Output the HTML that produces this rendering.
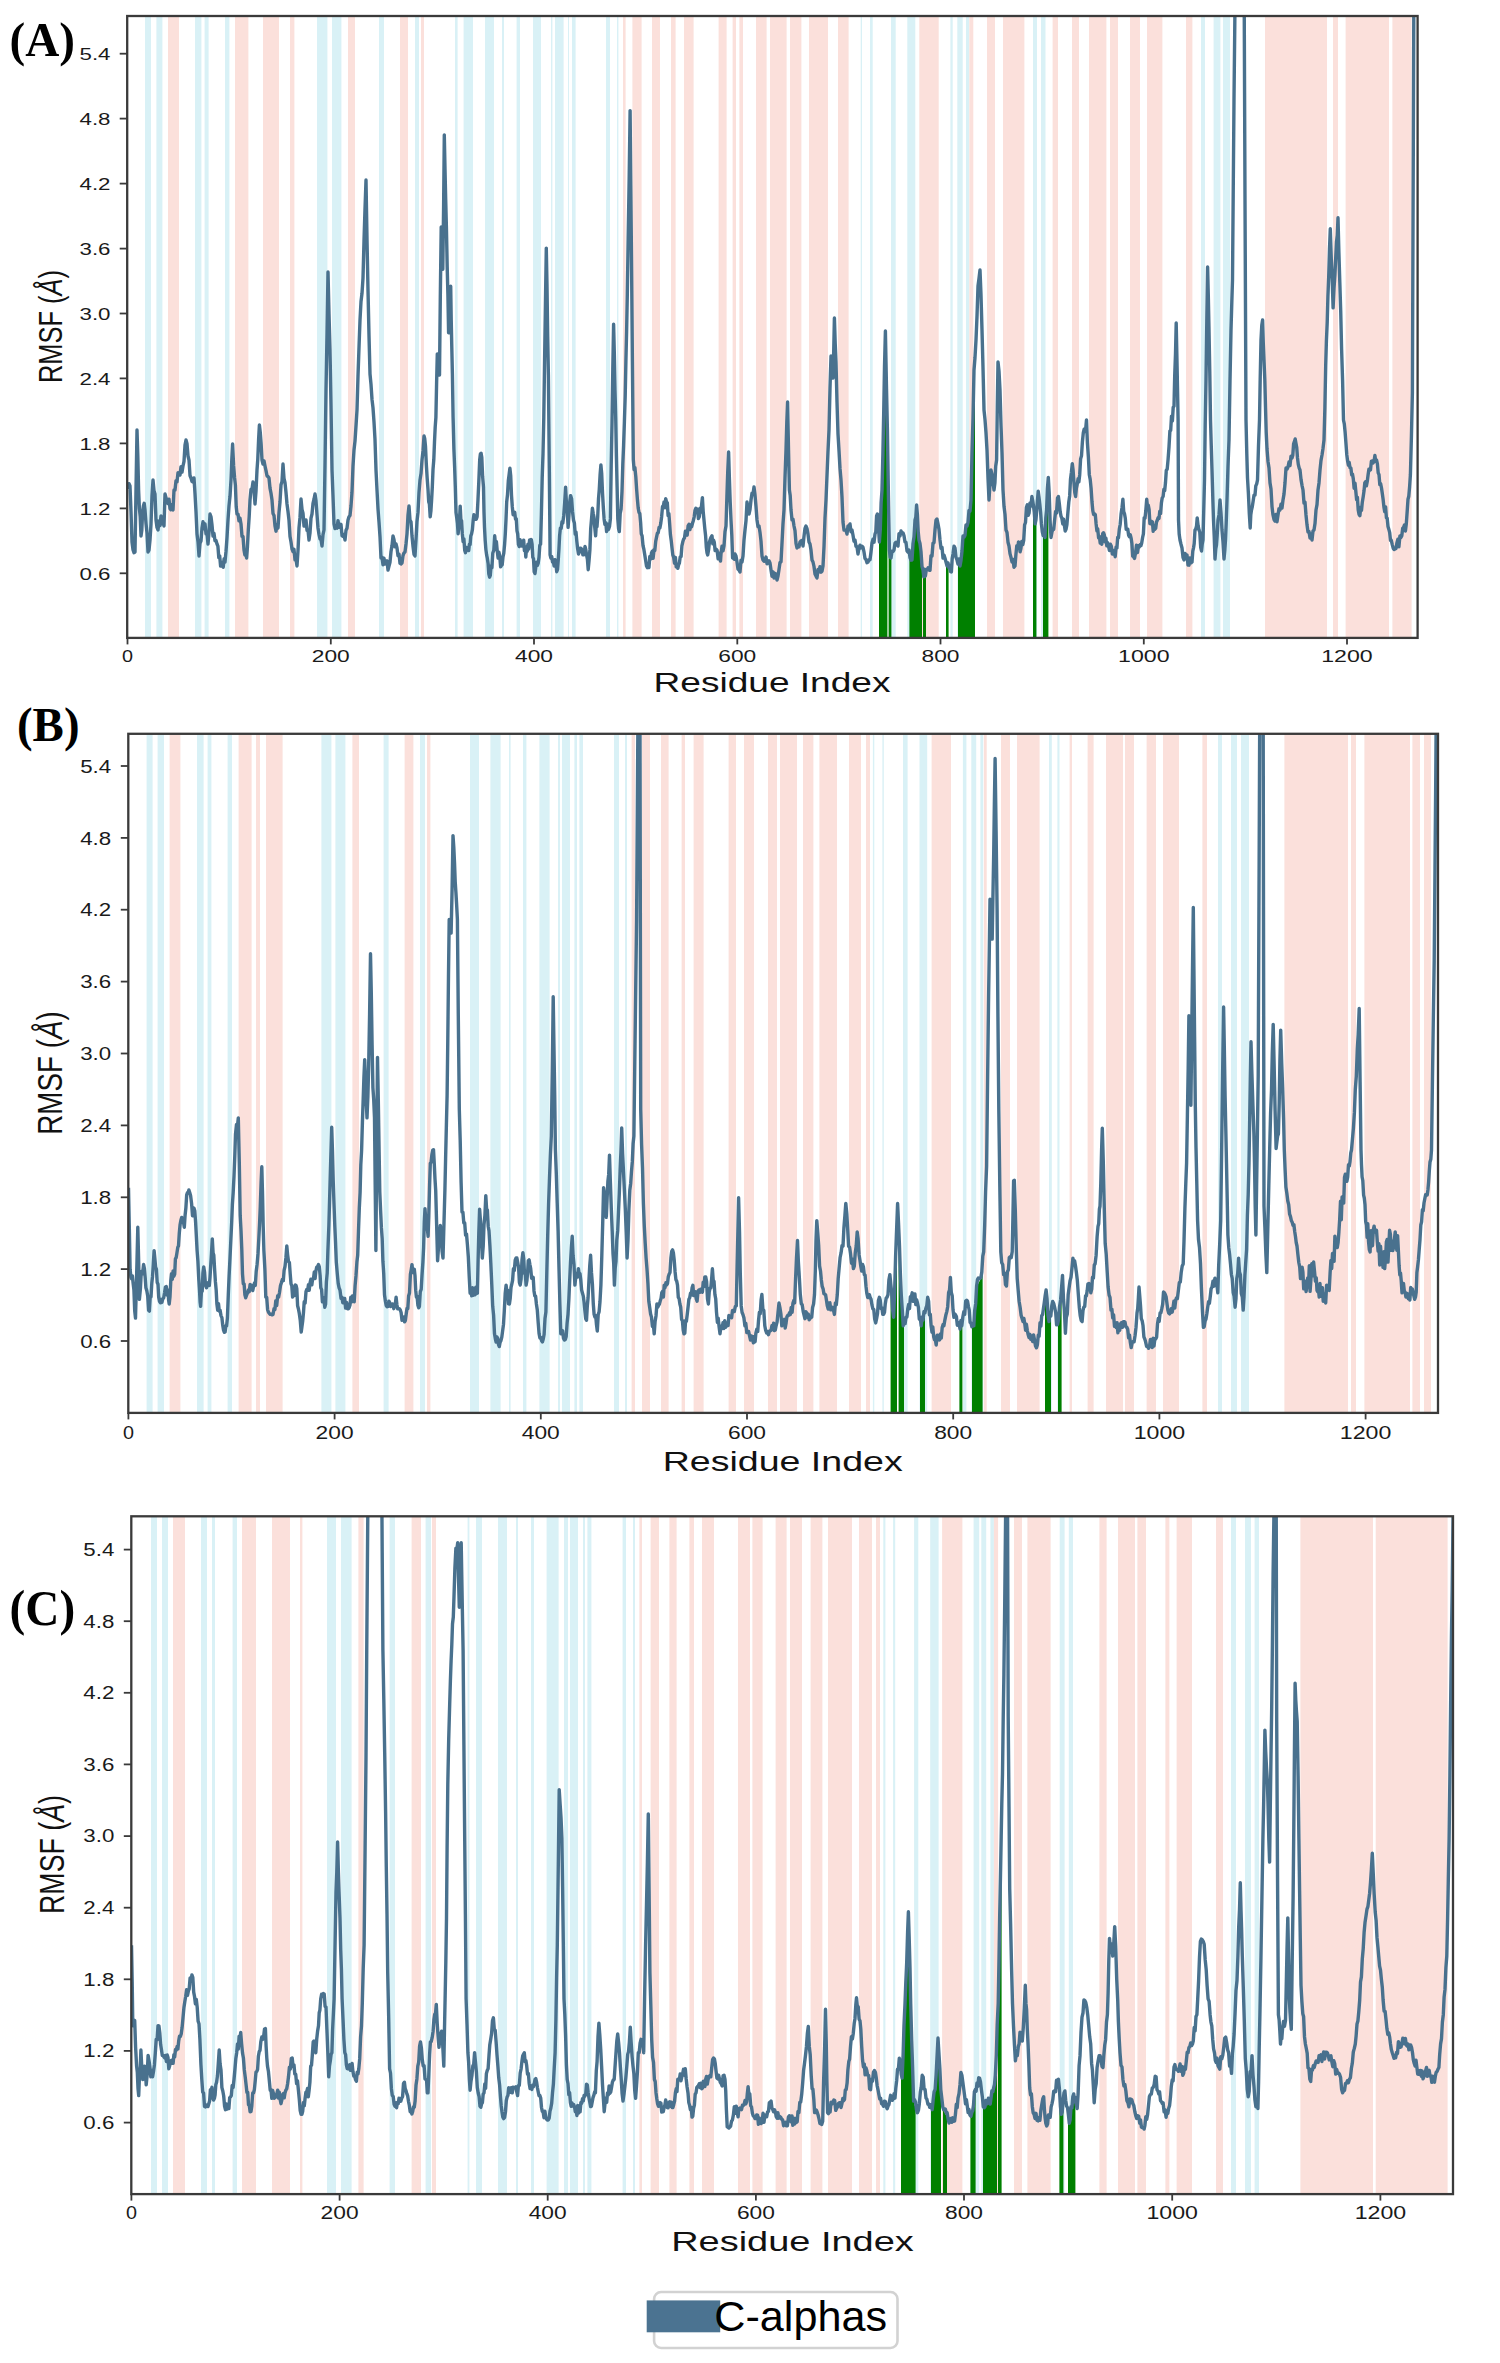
<!DOCTYPE html>
<html><head><meta charset="utf-8"><style>html,body{margin:0;padding:0;background:#fff;}svg{display:block;}</style></head>
<body>
<svg width="1500" height="2363" viewBox="0 0 1500 2363" font-family="Liberation Sans, sans-serif">
<rect width="1500" height="2363" fill="#fff"/>
<clipPath id="cA"><rect x="127.2" y="16" width="1290.3999999999999" height="621.9"/></clipPath>
<g clip-path="url(#cA)">
<rect x="145.0" y="16" width="6.0" height="621.9" fill="#d9f1f6"/>
<rect x="156.4" y="16" width="6.0" height="621.9" fill="#d9f1f6"/>
<rect x="195.0" y="16" width="6.4" height="621.9" fill="#d9f1f6"/>
<rect x="204.6" y="16" width="4.0" height="621.9" fill="#d9f1f6"/>
<rect x="225.0" y="16" width="4.4" height="621.9" fill="#d9f1f6"/>
<rect x="317.0" y="16" width="10.4" height="621.9" fill="#d9f1f6"/>
<rect x="332.0" y="16" width="9.4" height="621.9" fill="#d9f1f6"/>
<rect x="379.0" y="16" width="5.0" height="621.9" fill="#d9f1f6"/>
<rect x="415.0" y="16" width="4.0" height="621.9" fill="#d9f1f6"/>
<rect x="455.0" y="16" width="2.6" height="621.9" fill="#d9f1f6"/>
<rect x="463.6" y="16" width="9.4" height="621.9" fill="#d9f1f6"/>
<rect x="485.0" y="16" width="9.0" height="621.9" fill="#d9f1f6"/>
<rect x="502.0" y="16" width="2.0" height="621.9" fill="#d9f1f6"/>
<rect x="516.6" y="16" width="3.4" height="621.9" fill="#d9f1f6"/>
<rect x="533.0" y="16" width="8.0" height="621.9" fill="#d9f1f6"/>
<rect x="551.0" y="16" width="1.4" height="621.9" fill="#d9f1f6"/>
<rect x="555.0" y="16" width="8.6" height="621.9" fill="#d9f1f6"/>
<rect x="568.0" y="16" width="1.0" height="621.9" fill="#d9f1f6"/>
<rect x="572.0" y="16" width="3.6" height="621.9" fill="#d9f1f6"/>
<rect x="606.0" y="16" width="4.0" height="621.9" fill="#d9f1f6"/>
<rect x="617.0" y="16" width="1.4" height="621.9" fill="#d9f1f6"/>
<rect x="860.7" y="16" width="1.3" height="621.9" fill="#d9f1f6"/>
<rect x="870.0" y="16" width="2.7" height="621.9" fill="#d9f1f6"/>
<rect x="891.0" y="16" width="4.7" height="621.9" fill="#d9f1f6"/>
<rect x="907.3" y="16" width="8.0" height="621.9" fill="#d9f1f6"/>
<rect x="950.4" y="16" width="2.3" height="621.9" fill="#d9f1f6"/>
<rect x="957.3" y="16" width="5.4" height="621.9" fill="#d9f1f6"/>
<rect x="966.0" y="16" width="3.3" height="621.9" fill="#d9f1f6"/>
<rect x="1033.0" y="16" width="4.0" height="621.9" fill="#d9f1f6"/>
<rect x="1041.0" y="16" width="4.5" height="621.9" fill="#d9f1f6"/>
<rect x="1201.0" y="16" width="4.0" height="621.9" fill="#d9f1f6"/>
<rect x="1213.6" y="16" width="6.8" height="621.9" fill="#d9f1f6"/>
<rect x="1223.0" y="16" width="7.0" height="621.9" fill="#d9f1f6"/>
<rect x="168.0" y="16" width="11.0" height="621.9" fill="#fbe0db"/>
<rect x="235.0" y="16" width="13.4" height="621.9" fill="#fbe0db"/>
<rect x="263.0" y="16" width="16.0" height="621.9" fill="#fbe0db"/>
<rect x="290.0" y="16" width="4.4" height="621.9" fill="#fbe0db"/>
<rect x="348.0" y="16" width="7.0" height="621.9" fill="#fbe0db"/>
<rect x="400.0" y="16" width="8.0" height="621.9" fill="#fbe0db"/>
<rect x="421.0" y="16" width="3.0" height="621.9" fill="#fbe0db"/>
<rect x="623.0" y="16" width="2.6" height="621.9" fill="#fbe0db"/>
<rect x="632.4" y="16" width="9.2" height="621.9" fill="#fbe0db"/>
<rect x="652.0" y="16" width="8.0" height="621.9" fill="#fbe0db"/>
<rect x="671.0" y="16" width="4.6" height="621.9" fill="#fbe0db"/>
<rect x="684.0" y="16" width="9.6" height="621.9" fill="#fbe0db"/>
<rect x="718.6" y="16" width="8.0" height="621.9" fill="#fbe0db"/>
<rect x="732.6" y="16" width="3.4" height="621.9" fill="#fbe0db"/>
<rect x="739.4" y="16" width="3.6" height="621.9" fill="#fbe0db"/>
<rect x="756.0" y="16" width="10.6" height="621.9" fill="#fbe0db"/>
<rect x="770.0" y="16" width="16.6" height="621.9" fill="#fbe0db"/>
<rect x="790.0" y="16" width="11.4" height="621.9" fill="#fbe0db"/>
<rect x="809.0" y="16" width="19.0" height="621.9" fill="#fbe0db"/>
<rect x="838.0" y="16" width="10.6" height="621.9" fill="#fbe0db"/>
<rect x="919.3" y="16" width="19.4" height="621.9" fill="#fbe0db"/>
<rect x="969.3" y="16" width="4.0" height="621.9" fill="#fbe0db"/>
<rect x="987.0" y="16" width="8.0" height="621.9" fill="#fbe0db"/>
<rect x="1003.0" y="16" width="21.4" height="621.9" fill="#fbe0db"/>
<rect x="1052.6" y="16" width="5.4" height="621.9" fill="#fbe0db"/>
<rect x="1072.0" y="16" width="7.0" height="621.9" fill="#fbe0db"/>
<rect x="1089.0" y="16" width="17.4" height="621.9" fill="#fbe0db"/>
<rect x="1110.0" y="16" width="8.0" height="621.9" fill="#fbe0db"/>
<rect x="1130.0" y="16" width="10.0" height="621.9" fill="#fbe0db"/>
<rect x="1147.0" y="16" width="15.4" height="621.9" fill="#fbe0db"/>
<rect x="1186.0" y="16" width="6.4" height="621.9" fill="#fbe0db"/>
<rect x="1265.0" y="16" width="62.0" height="621.9" fill="#fbe0db"/>
<rect x="1333.0" y="16" width="5.0" height="621.9" fill="#fbe0db"/>
<rect x="1345.6" y="16" width="43.4" height="621.9" fill="#fbe0db"/>
<rect x="1392.4" y="16" width="19.2" height="621.9" fill="#fbe0db"/>
<path d="M879.0,637.9 L879.0,537.4 L880.0,531.0 L881.0,511.0 L882.0,491.0 L883.0,444.2 L884.0,397.5 L885.0,350.7 L886.0,361.7 L887.0,411.2 L887.4,431.0 L887.4,637.9Z M888.6,637.9 L888.6,503.0 L889.6,552.0 L890.6,557.0 L891.4,557.9 L891.4,637.9Z M909.4,637.9 L909.4,552.3 L910.4,555.7 L911.4,559.0 L912.4,555.7 L913.4,542.3 L914.4,529.0 L915.4,517.3 L916.4,507.9 L917.4,517.7 L918.4,532.2 L919.4,544.0 L920.4,551.5 L921.4,559.0 L922.0,563.5 L922.0,637.9Z M923.0,637.9 L923.0,571.0 L924.0,573.5 L925.0,576.0 L926.0,576.0 L926.0,637.9Z M946.0,637.9 L946.0,563.0 L947.0,565.0 L948.0,567.0 L948.6,568.2 L948.6,637.9Z M958.0,637.9 L958.0,563.0 L959.0,565.0 L960.0,567.0 L961.0,557.0 L962.0,547.0 L963.0,537.0 L964.0,534.5 L965.0,532.0 L966.0,529.5 L967.0,527.0 L968.0,520.5 L969.0,514.0 L970.0,507.5 L971.0,501.0 L972.0,457.7 L973.0,414.3 L974.0,371.0 L975.0,356.0 L975.0,637.9Z M1033.0,637.9 L1033.0,507.0 L1034.0,515.3 L1035.0,523.6 L1036.0,515.6 L1036.4,511.2 L1036.4,637.9Z M1043.0,637.9 L1043.0,530.9 L1044.0,534.7 L1045.0,538.3 L1046.0,520.0 L1047.0,501.6 L1048.0,483.3 L1048.4,481.3 L1048.4,637.9Z" fill="#008000"/>
<path d="M128.0,489.0 L129.0,483.7 L130.0,486.0 L131.0,511.5 L132.0,542.0 L133.0,549.7 L134.0,552.7 L135.0,552.0 L136.0,489.5 L137.0,430.0 L137.8,455.3 L138.6,490.0 L139.4,508.6 L140.2,516.5 L141.0,536.0 L141.8,530.2 L142.6,512.2 L143.4,506.0 L144.2,503.3 L145.0,510.0 L146.0,523.3 L147.0,533.2 L148.0,552.0 L149.0,550.1 L150.0,540.0 L151.0,524.3 L152.0,495.6 L153.0,480.0 L154.0,490.7 L155.0,494.0 L156.0,520.0 L157.0,527.4 L158.0,530.0 L159.0,521.0 L160.0,525.5 L161.0,516.0 L162.0,523.9 L163.0,520.5 L164.0,526.0 L165.0,494.0 L166.0,497.7 L167.0,502.7 L168.0,503.6 L169.0,499.2 L170.0,508.6 L171.0,509.8 L172.0,504.5 L173.0,510.0 L174.0,490.0 L175.0,490.0 L176.0,480.6 L177.0,481.9 L178.0,472.8 L179.0,474.0 L180.0,475.0 L181.0,466.6 L182.0,472.2 L183.0,466.0 L184.0,461.4 L185.0,445.1 L186.0,440.0 L187.0,443.6 L188.0,456.0 L189.0,460.2 L190.0,475.5 L191.0,478.0 L192.0,481.4 L193.0,482.1 L194.0,478.0 L195.0,493.6 L196.0,511.7 L197.0,534.0 L198.0,541.7 L199.0,556.0 L200.0,543.2 L201.0,541.1 L202.0,528.0 L203.0,521.8 L204.0,528.8 L205.0,524.0 L206.0,533.9 L207.0,533.7 L208.0,544.0 L209.0,532.4 L210.0,514.0 L211.0,516.8 L212.0,525.0 L213.0,536.0 L214.0,533.4 L215.0,540.9 L216.0,540.6 L217.0,544.0 L217.9,546.1 L218.8,557.5 L219.7,556.0 L220.6,566.0 L221.5,562.3 L222.4,562.4 L223.2,567.2 L224.1,558.7 L225.0,562.0 L226.0,551.4 L227.0,537.5 L228.0,520.0 L229.0,505.9 L230.0,496.3 L231.0,480.0 L231.8,459.5 L232.6,444.0 L233.6,465.7 L234.6,478.0 L235.4,485.1 L236.2,506.5 L237.0,514.0 L238.0,514.1 L239.0,520.9 L240.0,518.2 L241.0,524.0 L242.0,536.4 L243.0,536.4 L244.0,550.0 L244.9,555.0 L245.7,552.2 L246.6,558.0 L247.4,547.6 L248.3,530.2 L249.2,516.3 L250.0,500.0 L251.0,489.3 L252.0,489.3 L253.0,482.0 L254.0,490.2 L255.0,504.0 L256.0,491.3 L257.0,470.0 L257.8,458.8 L258.6,439.5 L259.4,425.0 L260.3,432.8 L261.1,443.4 L262.0,460.0 L263.0,464.1 L264.0,460.9 L265.0,466.0 L266.0,470.6 L267.0,475.8 L268.0,476.6 L269.0,478.0 L270.0,488.1 L271.0,493.3 L272.0,500.0 L273.0,513.4 L274.0,515.4 L275.0,526.0 L276.0,531.2 L277.0,524.4 L278.0,528.0 L279.0,512.4 L280.0,502.0 L281.0,484.8 L282.0,481.4 L283.0,464.0 L284.0,478.4 L285.0,482.7 L286.0,492.5 L287.0,504.0 L288.0,511.5 L289.0,520.4 L290.0,536.4 L291.0,542.0 L292.0,549.0 L293.0,551.7 L294.0,549.3 L295.0,559.8 L296.0,559.2 L297.0,566.0 L298.0,550.6 L299.0,527.9 L300.0,517.4 L301.0,499.0 L302.0,509.4 L303.0,513.2 L304.0,526.0 L305.0,526.0 L306.0,520.0 L307.0,530.4 L308.0,530.0 L309.0,540.0 L310.0,533.0 L311.0,518.1 L312.0,514.0 L313.0,503.4 L314.0,499.2 L315.0,494.0 L316.0,500.8 L317.0,514.5 L318.0,528.0 L319.0,534.5 L320.0,539.0 L321.0,539.5 L322.0,546.0 L323.0,534.7 L324.0,530.0 L325.0,464.5 L326.0,390.0 L327.0,334.7 L328.0,272.0 L329.0,313.8 L330.0,350.0 L331.0,406.0 L332.0,470.0 L333.0,496.2 L334.0,524.0 L335.0,528.6 L336.0,528.0 L337.0,528.2 L338.0,520.6 L339.0,527.3 L340.0,526.0 L341.0,524.4 L342.0,535.7 L343.0,536.5 L344.0,534.4 L345.0,540.0 L346.0,530.3 L347.0,528.2 L348.0,520.0 L349.0,516.8 L350.0,515.5 L351.0,506.0 L352.0,492.2 L353.0,465.8 L354.0,450.0 L355.0,441.1 L356.0,425.8 L357.0,410.0 L358.0,376.3 L359.0,347.5 L360.0,320.0 L361.0,301.5 L362.0,293.3 L363.0,278.0 L364.0,241.1 L365.0,208.7 L366.0,180.0 L367.0,239.3 L368.0,290.0 L369.0,335.5 L370.0,374.0 L371.0,384.4 L372.0,399.4 L373.0,407.9 L374.0,422.0 L375.0,439.7 L376.0,470.1 L377.0,490.0 L378.0,508.8 L379.0,522.1 L380.0,536.6 L381.0,558.0 L382.0,557.4 L383.0,564.7 L384.0,558.3 L385.0,564.0 L386.0,562.0 L387.0,560.9 L388.0,570.0 L389.0,566.0 L390.0,562.2 L391.0,551.5 L392.0,545.6 L393.0,536.0 L394.0,539.8 L395.0,546.9 L396.0,543.8 L397.0,548.0 L398.0,555.8 L399.0,554.1 L400.0,563.2 L401.0,564.0 L402.0,563.1 L403.0,555.6 L404.0,552.9 L405.0,552.0 L406.0,544.0 L407.0,533.8 L408.0,515.1 L409.0,506.0 L410.0,520.1 L411.0,521.8 L412.0,536.0 L413.0,546.4 L414.0,554.3 L415.0,556.0 L416.0,539.7 L417.0,521.2 L418.0,512.4 L419.0,492.4 L420.0,480.0 L421.0,473.6 L422.0,460.0 L423.0,450.9 L424.0,436.0 L424.7,438.5 L425.5,446.5 L426.3,463.9 L427.2,478.7 L428.0,489.3 L428.7,501.7 L429.4,504.1 L430.2,516.8 L430.9,511.1 L431.6,500.1 L432.3,487.2 L433.0,469.7 L433.8,459.7 L434.5,441.9 L435.2,427.0 L435.9,417.3 L436.6,383.0 L437.3,353.9 L438.1,356.0 L438.8,363.1 L439.5,375.0 L440.3,297.7 L441.2,226.9 L442.0,243.2 L442.8,269.3 L443.6,206.9 L444.3,134.9 L445.0,168.7 L445.7,199.6 L446.4,226.9 L447.2,267.1 L447.9,294.2 L448.6,332.7 L449.3,322.0 L450.0,304.3 L450.7,286.2 L451.2,319.1 L451.7,343.3 L452.4,373.7 L453.1,417.6 L453.9,449.1 L454.6,466.3 L455.3,486.8 L456.0,512.5 L456.7,517.5 L457.4,523.0 L458.1,533.7 L458.8,527.3 L459.5,519.9 L460.2,506.2 L460.9,519.8 L461.6,520.8 L462.3,533.7 L463.1,541.7 L463.9,538.8 L464.7,550.2 L465.5,552.7 L466.3,547.5 L467.1,550.0 L467.9,547.5 L468.7,550.6 L469.4,544.3 L470.1,544.5 L470.8,535.8 L471.6,533.8 L472.4,529.6 L473.2,520.1 L473.9,514.7 L474.7,519.4 L475.5,518.5 L476.3,519.2 L477.1,516.8 L478.0,499.4 L478.8,481.8 L479.7,459.7 L480.4,454.0 L481.1,453.3 L481.8,457.5 L482.6,476.2 L483.5,487.2 L484.0,512.1 L484.5,527.4 L485.2,540.7 L485.9,549.6 L486.6,554.9 L487.3,558.2 L488.1,563.4 L488.8,573.9 L489.6,577.2 L490.3,575.4 L491.1,565.6 L491.9,567.6 L492.8,553.0 L493.8,550.4 L494.7,535.8 L495.5,545.0 L496.4,541.7 L497.2,550.6 L498.1,558.0 L498.9,552.2 L499.8,556.6 L500.6,566.9 L501.5,565.4 L502.2,564.8 L503.0,556.8 L503.8,553.1 L504.6,544.3 L505.3,533.8 L506.0,519.6 L506.7,502.0 L507.5,494.8 L508.3,481.0 L509.1,474.6 L509.9,468.1 L510.7,475.6 L511.5,495.4 L512.3,506.9 L513.1,514.7 L513.9,512.1 L514.7,512.1 L515.5,519.1 L516.3,518.9 L517.0,530.8 L517.7,533.8 L518.4,544.3 L519.3,546.6 L520.1,539.7 L521.0,544.2 L521.9,546.1 L522.8,545.0 L523.7,540.1 L524.4,550.6 L525.1,546.7 L525.8,557.0 L526.5,548.1 L527.2,551.3 L527.9,544.3 L528.7,549.1 L529.6,539.9 L530.4,542.9 L531.3,539.6 L532.1,544.3 L532.8,557.3 L533.5,558.7 L534.2,571.8 L535.0,573.6 L535.8,566.8 L536.6,562.3 L537.4,565.4 L538.2,563.2 L539.0,557.3 L539.8,545.3 L540.6,544.3 L541.4,513.9 L542.2,477.7 L543.0,453.9 L543.8,417.3 L544.6,359.9 L545.5,299.8 L546.3,248.1 L547.0,286.3 L547.7,336.9 L548.4,375.0 L549.3,467.9 L550.1,554.9 L550.9,558.2 L551.7,556.5 L552.5,562.0 L553.3,561.2 L554.1,566.0 L555.0,559.7 L555.8,561.8 L556.7,571.7 L557.5,569.7 L558.2,560.7 L558.9,550.0 L559.6,535.8 L560.4,527.9 L561.2,528.4 L562.0,521.7 L562.8,523.1 L563.7,515.9 L564.6,503.9 L565.6,487.2 L566.4,502.6 L567.2,509.5 L568.1,527.4 L568.9,516.2 L569.8,501.5 L570.6,495.6 L571.6,498.7 L572.5,511.2 L573.5,520.3 L574.4,523.1 L575.2,534.2 L576.0,532.2 L576.8,541.1 L577.6,548.5 L578.5,554.0 L579.4,552.1 L580.3,548.2 L581.1,548.4 L582.0,549.7 L582.9,554.9 L583.6,554.9 L584.3,554.1 L585.0,546.4 L585.8,549.7 L586.6,555.1 L587.4,559.1 L588.2,569.7 L589.0,561.1 L589.9,549.9 L590.7,528.6 L591.6,518.1 L592.4,508.3 L593.2,513.3 L594.0,517.4 L594.8,527.8 L595.6,535.8 L596.3,524.7 L597.0,526.7 L597.7,516.8 L598.5,498.9 L599.3,489.1 L600.1,474.6 L600.9,464.9 L601.7,473.7 L602.5,492.7 L603.3,506.9 L604.1,518.9 L604.9,524.6 L605.8,522.7 L606.6,531.6 L607.6,524.1 L608.5,529.5 L609.5,526.5 L610.4,518.9 L611.2,465.6 L612.0,423.1 L612.8,369.4 L613.6,324.3 L614.3,352.4 L615.0,389.9 L615.7,417.3 L616.4,456.1 L617.1,486.7 L617.8,518.9 L618.6,528.9 L619.3,531.6 L620.2,513.5 L621.1,509.1 L622.0,491.4 L622.8,464.5 L623.6,445.4 L624.4,421.8 L625.2,396.2 L625.9,361.3 L626.6,331.7 L627.3,294.6 L628.2,236.3 L629.2,176.3 L630.1,110.6 L630.8,186.3 L631.6,269.3 L632.4,361.6 L633.3,459.7 L634.1,469.7 L634.9,467.6 L635.8,476.6 L636.6,489.0 L637.4,499.4 L638.2,508.1 L639.0,512.5 L639.8,513.6 L640.6,522.4 L641.3,533.8 L642.1,535.8 L643.0,545.5 L643.9,549.4 L644.8,554.9 L645.7,560.8 L646.5,565.9 L647.4,567.6 L648.2,564.6 L649.0,567.5 L649.8,556.4 L650.6,559.1 L651.5,553.0 L652.3,551.2 L653.1,558.2 L654.0,549.8 L654.8,550.6 L655.7,541.4 L656.5,537.3 L657.4,533.1 L658.2,532.8 L659.1,527.4 L659.9,527.9 L660.8,523.1 L661.6,517.0 L662.5,506.6 L663.3,506.2 L664.1,501.9 L664.9,507.8 L665.7,498.6 L666.5,502.0 L667.3,502.7 L668.1,515.7 L668.9,513.5 L669.6,523.1 L670.4,534.6 L671.2,540.4 L672.0,547.9 L672.8,554.9 L673.7,557.4 L674.5,563.3 L675.4,557.5 L676.2,566.9 L677.1,565.4 L677.8,568.3 L678.6,564.8 L679.4,563.0 L680.2,557.0 L681.1,556.5 L681.9,545.8 L682.8,541.8 L683.6,539.2 L684.5,537.9 L685.4,531.1 L686.3,531.3 L687.2,535.2 L688.1,525.9 L689.0,524.3 L689.9,529.6 L690.8,525.2 L691.6,526.7 L692.5,523.3 L693.3,520.7 L694.2,516.8 L695.0,510.4 L695.9,508.2 L696.7,509.8 L697.6,509.3 L698.4,518.5 L699.3,516.8 L700.1,508.2 L700.9,512.1 L701.6,505.0 L702.4,497.7 L703.2,511.6 L704.0,520.1 L704.8,528.6 L705.6,535.8 L706.3,547.0 L707.0,552.7 L707.7,554.9 L708.6,549.8 L709.4,542.3 L710.3,539.2 L711.1,537.1 L712.0,535.8 L712.8,543.9 L713.5,540.1 L714.3,542.4 L715.1,550.6 L716.1,549.1 L717.1,550.3 L718.1,558.7 L719.0,553.1 L720.0,559.1 L720.5,561.1 L721.0,554.0 L722.0,546.3 L723.0,550.8 L724.0,546.0 L725.0,531.6 L726.0,526.0 L726.9,496.7 L727.7,472.6 L728.6,452.0 L729.4,478.8 L730.2,502.1 L731.0,520.0 L731.8,535.1 L732.6,558.0 L733.4,558.3 L734.2,559.3 L735.0,554.0 L736.0,556.0 L737.0,562.0 L738.0,569.2 L739.0,570.0 L740.0,572.0 L741.0,560.2 L742.0,562.0 L743.0,556.0 L744.0,540.2 L745.0,530.0 L746.0,520.8 L747.0,502.0 L748.0,509.2 L749.0,514.0 L750.0,509.7 L751.0,500.0 L752.0,493.3 L753.0,493.9 L754.0,487.0 L755.0,494.8 L756.0,506.5 L757.0,520.0 L758.0,526.7 L759.0,526.0 L760.0,532.4 L761.0,541.1 L762.0,556.0 L763.0,560.0 L764.0,561.3 L765.0,560.0 L766.0,557.1 L767.0,563.8 L768.0,562.0 L769.0,560.8 L770.0,563.0 L771.0,570.0 L772.0,576.3 L773.0,571.8 L774.0,578.0 L775.0,573.5 L776.0,574.2 L777.0,580.0 L778.0,576.0 L779.0,569.5 L780.0,562.5 L781.0,562.0 L782.0,543.2 L783.0,523.6 L784.0,510.0 L785.0,477.6 L786.0,450.0 L786.8,422.5 L787.6,402.0 L788.5,449.2 L789.4,490.0 L790.2,495.6 L791.0,510.0 L792.0,519.9 L793.0,519.2 L794.0,526.0 L795.0,530.7 L796.0,543.3 L797.0,548.0 L798.0,546.8 L799.0,546.9 L800.0,542.0 L801.0,540.8 L802.0,540.5 L803.0,546.0 L804.0,536.4 L805.0,528.4 L806.0,526.0 L807.0,528.6 L808.0,534.1 L809.0,542.0 L810.0,544.0 L811.0,550.1 L812.0,560.0 L813.0,562.0 L814.0,566.5 L815.0,574.0 L816.0,576.1 L817.0,577.9 L818.0,569.5 L819.0,572.0 L820.0,566.6 L821.0,572.2 L822.0,571.3 L823.0,566.0 L824.0,546.7 L825.0,518.0 L826.0,500.0 L827.0,475.5 L828.0,451.2 L829.0,430.0 L830.0,388.3 L831.0,356.0 L832.0,370.7 L833.0,378.0 L833.7,351.7 L834.4,318.0 L835.2,343.4 L836.0,362.0 L837.0,402.2 L838.0,434.0 L839.0,450.6 L840.0,468.4 L841.0,480.0 L842.0,497.1 L843.0,522.0 L844.0,530.1 L845.0,530.0 L846.0,530.6 L847.0,534.0 L848.0,525.9 L849.0,526.0 L850.0,523.9 L851.0,531.7 L852.0,530.0 L853.0,535.3 L854.0,541.2 L855.0,540.0 L856.0,546.4 L857.0,546.7 L858.0,554.0 L859.0,548.3 L860.0,545.2 L861.0,548.0 L862.0,546.3 L863.0,547.3 L864.0,552.0 L865.0,558.4 L866.0,559.6 L867.0,562.7 L868.0,562.0 L869.0,559.8 L870.0,559.7 L871.0,552.0 L872.0,543.0 L873.0,539.2 L874.0,542.2 L875.0,534.0 L875.8,531.8 L876.6,515.9 L877.4,514.0 L878.4,526.4 L879.4,542.0 L880.3,529.3 L881.1,502.9 L882.0,490.0 L882.9,453.5 L883.7,413.0 L884.5,366.8 L885.4,331.0 L886.4,383.6 L887.4,430.0 L888.4,494.3 L889.4,550.0 L890.2,557.3 L891.0,558.0 L892.0,551.3 L893.0,551.5 L894.0,550.0 L895.0,543.3 L896.0,542.3 L897.0,544.0 L898.0,546.1 L899.0,533.7 L900.0,536.0 L901.0,531.0 L902.0,533.0 L903.0,532.9 L904.0,535.8 L905.0,542.0 L906.0,542.4 L907.0,550.9 L908.0,552.1 L909.0,550.0 L910.0,557.6 L911.0,560.2 L912.0,560.0 L913.0,543.4 L914.0,537.0 L915.0,520.0 L915.8,517.3 L916.6,505.0 L917.4,514.7 L918.2,531.6 L919.0,540.0 L920.0,543.5 L921.0,551.6 L922.0,566.6 L923.0,570.0 L923.8,576.8 L924.6,569.1 L925.4,576.0 L926.3,569.6 L927.2,569.6 L928.1,567.8 L929.0,570.0 L930.0,570.3 L931.0,555.7 L932.0,556.0 L933.0,543.3 L934.0,542.7 L935.0,530.0 L936.0,520.1 L937.0,519.0 L938.0,523.9 L939.0,529.4 L940.0,540.0 L941.0,548.4 L942.0,547.2 L943.0,558.0 L944.0,555.1 L945.0,558.2 L946.0,562.0 L947.0,565.7 L948.0,562.9 L949.0,568.0 L949.8,565.3 L950.6,571.7 L951.4,572.0 L952.2,558.6 L953.0,554.0 L954.0,546.1 L955.0,548.0 L956.0,557.4 L957.0,560.0 L958.0,564.0 L959.0,559.0 L960.0,566.0 L961.0,560.4 L962.0,551.0 L963.0,536.0 L964.0,537.2 L965.0,535.2 L966.0,525.0 L967.0,526.0 L968.0,522.5 L969.0,510.5 L970.0,511.1 L971.0,500.0 L972.0,452.4 L973.0,418.2 L974.0,370.0 L975.0,357.5 L976.0,340.0 L977.0,316.1 L978.0,286.0 L979.0,278.6 L980.0,270.0 L981.0,295.1 L982.0,330.0 L983.0,367.8 L984.0,410.0 L985.0,419.6 L986.0,432.9 L987.0,450.0 L988.0,478.1 L989.0,500.0 L990.0,483.6 L991.0,470.0 L992.0,474.7 L993.0,482.5 L994.0,490.0 L994.9,483.1 L995.7,466.2 L996.6,460.0 L997.3,406.9 L998.0,362.0 L999.0,371.2 L1000.0,390.0 L1001.0,425.2 L1002.0,452.6 L1003.0,490.0 L1004.0,506.3 L1005.0,514.3 L1006.0,530.0 L1007.0,532.4 L1008.0,542.2 L1009.0,546.0 L1010.0,553.6 L1011.0,557.4 L1012.0,562.0 L1013.0,559.4 L1014.0,567.2 L1015.0,566.0 L1015.9,554.7 L1016.8,545.7 L1017.7,548.3 L1018.5,541.9 L1019.3,545.7 L1020.1,551.9 L1020.9,548.5 L1021.8,541.4 L1022.8,544.7 L1023.7,540.3 L1024.6,524.8 L1025.5,522.5 L1026.4,507.5 L1027.3,504.8 L1028.2,515.4 L1029.1,512.9 L1030.0,503.0 L1031.0,506.1 L1031.9,496.5 L1032.7,500.8 L1033.5,506.1 L1034.3,512.4 L1035.1,523.9 L1035.9,520.1 L1036.7,510.6 L1037.4,500.8 L1038.2,491.1 L1039.0,497.1 L1039.8,504.1 L1040.6,512.2 L1041.4,523.9 L1042.3,531.8 L1043.2,535.5 L1044.1,532.7 L1045.0,537.5 L1045.8,517.9 L1046.6,509.6 L1047.4,488.6 L1048.3,477.4 L1049.2,492.8 L1050.1,521.1 L1051.0,537.5 L1051.9,532.4 L1052.8,529.2 L1053.7,529.3 L1054.7,519.4 L1055.6,511.5 L1056.5,513.1 L1057.5,498.1 L1058.4,496.5 L1059.3,503.5 L1060.2,511.9 L1061.0,516.1 L1061.9,518.4 L1062.8,524.0 L1063.6,519.1 L1064.4,525.6 L1065.2,531.0 L1066.0,529.3 L1066.9,524.7 L1067.9,512.4 L1068.8,502.0 L1069.7,495.7 L1070.5,479.1 L1071.4,472.3 L1072.3,463.7 L1073.1,470.3 L1074.0,483.0 L1074.8,492.7 L1075.6,496.5 L1076.4,488.2 L1077.2,484.3 L1078.1,478.8 L1078.9,481.9 L1079.7,474.7 L1080.6,458.9 L1081.5,455.8 L1082.4,441.9 L1083.3,432.8 L1084.1,429.3 L1084.9,431.6 L1085.7,428.9 L1086.5,420.0 L1087.4,442.8 L1088.4,457.4 L1089.3,474.7 L1090.2,479.4 L1091.1,488.4 L1092.0,502.0 L1092.8,510.7 L1093.6,514.5 L1094.5,513.8 L1095.3,514.7 L1096.1,523.9 L1096.9,530.9 L1097.7,528.9 L1098.6,537.8 L1099.4,536.5 L1100.2,543.0 L1101.0,542.5 L1101.8,544.2 L1102.7,533.6 L1103.5,532.7 L1104.3,534.8 L1105.1,541.8 L1105.9,538.2 L1106.8,545.8 L1107.6,542.7 L1108.4,545.7 L1109.4,550.5 L1110.4,544.2 L1111.3,546.2 L1112.3,554.1 L1113.3,551.1 L1114.3,550.2 L1115.2,556.7 L1116.1,547.0 L1116.9,548.0 L1117.7,537.3 L1118.5,537.7 L1119.3,529.3 L1120.2,524.2 L1121.1,513.7 L1122.0,507.7 L1122.9,499.3 L1123.7,511.5 L1124.5,513.8 L1125.3,518.2 L1126.2,529.3 L1127.0,529.5 L1127.8,529.2 L1128.6,535.1 L1129.4,536.6 L1130.3,534.8 L1131.1,538.1 L1131.9,543.6 L1132.7,556.1 L1133.5,556.7 L1134.5,558.4 L1135.5,553.1 L1136.5,545.3 L1137.5,552.5 L1138.5,545.7 L1139.3,547.0 L1140.1,544.7 L1140.9,545.7 L1141.7,543.1 L1142.6,537.5 L1143.4,533.8 L1144.2,517.7 L1145.0,518.3 L1145.8,510.8 L1146.7,499.3 L1147.5,506.7 L1148.3,505.2 L1149.1,509.6 L1149.9,523.7 L1150.8,523.9 L1151.6,521.4 L1152.4,521.9 L1153.2,531.3 L1154.0,525.1 L1154.9,529.3 L1155.7,528.3 L1156.5,522.0 L1157.3,520.2 L1158.1,517.8 L1159.0,518.4 L1159.8,511.2 L1160.6,513.5 L1161.4,503.0 L1162.2,498.0 L1163.1,496.5 L1163.9,489.3 L1164.7,490.5 L1165.5,482.5 L1166.3,470.3 L1167.2,469.2 L1168.1,459.2 L1169.0,446.9 L1169.9,430.9 L1170.7,430.5 L1171.5,416.2 L1172.4,421.0 L1173.2,407.3 L1174.0,406.3 L1174.7,376.1 L1175.5,353.8 L1176.2,323.0 L1177.1,367.2 L1178.1,420.0 L1178.5,520.0 L1179.2,534.3 L1180.0,540.0 L1181.0,544.2 L1182.0,548.0 L1183.0,557.3 L1184.0,560.0 L1185.0,553.4 L1186.0,555.0 L1187.0,555.0 L1188.0,565.0 L1189.0,565.2 L1190.0,558.0 L1191.0,562.8 L1192.0,562.0 L1192.8,551.2 L1193.5,548.0 L1194.2,543.5 L1195.0,530.0 L1195.7,529.3 L1196.5,526.3 L1197.2,518.0 L1198.1,525.7 L1199.0,530.0 L1199.8,532.3 L1200.7,547.3 L1201.5,551.0 L1202.2,544.3 L1203.0,540.0 L1203.8,508.2 L1204.5,480.0 L1205.2,425.1 L1206.0,380.0 L1206.8,321.2 L1207.6,267.0 L1208.3,295.2 L1209.0,330.0 L1209.8,373.7 L1210.5,420.0 L1211.2,444.1 L1212.0,470.0 L1212.8,497.9 L1213.5,520.0 L1214.2,535.6 L1215.0,559.0 L1215.8,548.6 L1216.5,545.0 L1217.2,535.2 L1218.0,520.0 L1219.0,514.7 L1220.0,500.0 L1221.0,512.7 L1222.0,530.0 L1223.0,542.1 L1224.0,559.0 L1224.8,550.4 L1225.5,540.0 L1226.2,523.2 L1227.0,500.0 L1228.0,466.2 L1229.0,440.0 L1230.0,380.6 L1231.0,330.0 L1231.8,302.6 L1232.5,280.0 L1233.2,194.8 L1234.0,100.0 L1234.8,23.8 L1235.5,-50.0 L1236.4,-50.0 L1237.4,-50.0 L1238.3,-50.0 L1239.3,-50.0 L1240.2,-50.0 L1241.2,-50.0 L1242.1,-50.0 L1243.1,-50.0 L1244.0,-50.0 L1245.0,200.0 L1246.0,420.0 L1246.8,453.7 L1247.5,478.0 L1248.4,493.4 L1249.3,513.3 L1250.2,528.0 L1250.8,514.7 L1251.5,510.0 L1252.2,507.2 L1253.0,502.0 L1254.0,495.2 L1255.0,495.0 L1255.8,485.9 L1256.7,483.8 L1257.5,480.0 L1258.5,445.7 L1259.5,420.0 L1260.2,378.5 L1261.0,340.0 L1261.8,325.2 L1262.6,320.0 L1263.3,343.6 L1264.0,360.0 L1264.8,379.2 L1265.5,407.0 L1266.2,432.4 L1267.0,449.0 L1268.0,461.5 L1269.0,468.0 L1270.0,482.9 L1271.0,489.0 L1272.0,506.6 L1273.0,515.0 L1274.0,519.5 L1275.0,521.0 L1276.0,514.4 L1277.0,521.7 L1278.0,515.0 L1279.0,508.6 L1280.0,510.0 L1281.0,504.2 L1282.0,508.0 L1283.0,500.0 L1284.0,494.1 L1285.0,483.0 L1286.0,468.0 L1287.0,469.2 L1288.0,467.0 L1289.0,462.0 L1290.0,465.6 L1291.0,456.3 L1292.0,458.0 L1292.8,455.3 L1293.6,443.8 L1294.4,441.7 L1295.2,439.0 L1296.0,443.5 L1296.7,447.2 L1297.5,458.0 L1298.3,464.4 L1299.2,468.1 L1300.0,470.0 L1301.0,479.4 L1302.0,485.3 L1303.0,490.0 L1304.0,503.0 L1305.0,502.1 L1306.0,515.0 L1307.0,524.8 L1308.0,532.0 L1309.0,531.5 L1310.0,538.0 L1311.0,534.0 L1312.0,540.0 L1313.0,531.0 L1314.0,530.0 L1315.0,523.6 L1316.0,510.0 L1317.0,504.6 L1318.0,490.0 L1319.0,482.9 L1320.0,470.0 L1321.0,460.4 L1322.0,455.0 L1323.0,448.4 L1324.0,440.0 L1324.9,407.4 L1325.7,365.3 L1326.4,341.3 L1327.2,322.6 L1327.9,297.0 L1328.7,276.7 L1329.5,249.0 L1330.3,228.7 L1331.3,259.3 L1332.2,279.3 L1333.1,307.9 L1334.0,288.3 L1334.9,275.2 L1335.8,256.0 L1336.5,241.9 L1337.3,235.1 L1338.0,217.7 L1338.9,252.5 L1339.8,281.8 L1340.7,310.7 L1341.6,349.3 L1342.6,380.9 L1343.5,420.0 L1344.3,423.8 L1345.1,432.0 L1345.9,442.6 L1346.8,454.9 L1347.6,461.0 L1348.4,465.2 L1349.2,462.4 L1350.0,467.7 L1350.9,468.1 L1351.7,474.7 L1352.5,474.2 L1353.3,478.9 L1354.1,488.2 L1355.0,483.2 L1355.8,491.1 L1356.6,499.7 L1357.4,497.4 L1358.2,509.9 L1359.1,514.6 L1359.9,515.7 L1360.7,507.3 L1361.5,510.4 L1362.3,502.2 L1363.2,496.7 L1364.0,491.1 L1364.8,483.0 L1365.6,481.7 L1366.4,485.9 L1367.3,481.2 L1368.1,474.7 L1368.9,469.2 L1369.7,470.3 L1370.5,469.8 L1371.4,461.1 L1372.2,461.0 L1373.1,463.0 L1374.0,461.5 L1374.9,455.5 L1375.7,461.3 L1376.5,460.0 L1377.4,463.9 L1378.2,472.8 L1379.0,474.7 L1379.8,484.5 L1380.6,483.5 L1381.5,488.0 L1382.3,493.4 L1383.1,499.3 L1383.9,506.9 L1384.7,511.7 L1385.6,507.0 L1386.4,517.7 L1387.2,518.4 L1388.0,526.5 L1388.8,529.2 L1389.7,532.7 L1390.5,540.4 L1391.3,540.3 L1392.2,544.3 L1393.2,548.2 L1394.1,549.5 L1395.0,549.0 L1396.0,548.5 L1396.9,543.0 L1397.9,539.2 L1398.9,546.8 L1399.9,536.0 L1400.9,537.5 L1401.8,535.7 L1402.7,528.3 L1403.6,527.4 L1404.5,524.9 L1405.4,531.1 L1406.3,523.9 L1407.2,511.2 L1408.0,499.2 L1408.8,496.2 L1409.6,486.9 L1410.4,474.7 L1411.4,437.1 L1412.4,392.7 L1413.2,176.1 L1414.0,-44.7" fill="none" stroke="#49718e" stroke-width="3.4" stroke-linejoin="round"/>
</g>
<rect x="127.2" y="16" width="1290.3999999999999" height="621.9" fill="none" stroke="#3a3a3a" stroke-width="2.3"/>
<line x1="119.7" y1="573.3" x2="127.2" y2="573.3" stroke="#3a3a3a" stroke-width="1.8"/>
<text x="110.5" y="579.5" font-size="17.2" text-anchor="end" textLength="31" lengthAdjust="spacingAndGlyphs" fill="#1a1a1a">0.6</text>
<line x1="119.7" y1="508.4" x2="127.2" y2="508.4" stroke="#3a3a3a" stroke-width="1.8"/>
<text x="110.5" y="514.5" font-size="17.2" text-anchor="end" textLength="31" lengthAdjust="spacingAndGlyphs" fill="#1a1a1a">1.2</text>
<line x1="119.7" y1="443.4" x2="127.2" y2="443.4" stroke="#3a3a3a" stroke-width="1.8"/>
<text x="110.5" y="449.6" font-size="17.2" text-anchor="end" textLength="31" lengthAdjust="spacingAndGlyphs" fill="#1a1a1a">1.8</text>
<line x1="119.7" y1="378.4" x2="127.2" y2="378.4" stroke="#3a3a3a" stroke-width="1.8"/>
<text x="110.5" y="384.6" font-size="17.2" text-anchor="end" textLength="31" lengthAdjust="spacingAndGlyphs" fill="#1a1a1a">2.4</text>
<line x1="119.7" y1="313.5" x2="127.2" y2="313.5" stroke="#3a3a3a" stroke-width="1.8"/>
<text x="110.5" y="319.7" font-size="17.2" text-anchor="end" textLength="31" lengthAdjust="spacingAndGlyphs" fill="#1a1a1a">3.0</text>
<line x1="119.7" y1="248.6" x2="127.2" y2="248.6" stroke="#3a3a3a" stroke-width="1.8"/>
<text x="110.5" y="254.7" font-size="17.2" text-anchor="end" textLength="31" lengthAdjust="spacingAndGlyphs" fill="#1a1a1a">3.6</text>
<line x1="119.7" y1="183.6" x2="127.2" y2="183.6" stroke="#3a3a3a" stroke-width="1.8"/>
<text x="110.5" y="189.8" font-size="17.2" text-anchor="end" textLength="31" lengthAdjust="spacingAndGlyphs" fill="#1a1a1a">4.2</text>
<line x1="119.7" y1="118.6" x2="127.2" y2="118.6" stroke="#3a3a3a" stroke-width="1.8"/>
<text x="110.5" y="124.8" font-size="17.2" text-anchor="end" textLength="31" lengthAdjust="spacingAndGlyphs" fill="#1a1a1a">4.8</text>
<line x1="119.7" y1="53.7" x2="127.2" y2="53.7" stroke="#3a3a3a" stroke-width="1.8"/>
<text x="110.5" y="59.9" font-size="17.2" text-anchor="end" textLength="31" lengthAdjust="spacingAndGlyphs" fill="#1a1a1a">5.4</text>
<line x1="127.5" y1="637.9" x2="127.5" y2="644.4" stroke="#3a3a3a" stroke-width="1.8"/>
<text x="127.5" y="661.5" font-size="17.2" text-anchor="middle" textLength="11" lengthAdjust="spacingAndGlyphs" fill="#1a1a1a">0</text>
<line x1="330.8" y1="637.9" x2="330.8" y2="644.4" stroke="#3a3a3a" stroke-width="1.8"/>
<text x="330.8" y="661.5" font-size="17.2" text-anchor="middle" textLength="38" lengthAdjust="spacingAndGlyphs" fill="#1a1a1a">200</text>
<line x1="534.0" y1="637.9" x2="534.0" y2="644.4" stroke="#3a3a3a" stroke-width="1.8"/>
<text x="534.0" y="661.5" font-size="17.2" text-anchor="middle" textLength="38" lengthAdjust="spacingAndGlyphs" fill="#1a1a1a">400</text>
<line x1="737.3" y1="637.9" x2="737.3" y2="644.4" stroke="#3a3a3a" stroke-width="1.8"/>
<text x="737.3" y="661.5" font-size="17.2" text-anchor="middle" textLength="38" lengthAdjust="spacingAndGlyphs" fill="#1a1a1a">600</text>
<line x1="940.5" y1="637.9" x2="940.5" y2="644.4" stroke="#3a3a3a" stroke-width="1.8"/>
<text x="940.5" y="661.5" font-size="17.2" text-anchor="middle" textLength="38" lengthAdjust="spacingAndGlyphs" fill="#1a1a1a">800</text>
<line x1="1143.8" y1="637.9" x2="1143.8" y2="644.4" stroke="#3a3a3a" stroke-width="1.8"/>
<text x="1143.8" y="661.5" font-size="17.2" text-anchor="middle" textLength="51.5" lengthAdjust="spacingAndGlyphs" fill="#1a1a1a">1000</text>
<line x1="1347.0" y1="637.9" x2="1347.0" y2="644.4" stroke="#3a3a3a" stroke-width="1.8"/>
<text x="1347.0" y="661.5" font-size="17.2" text-anchor="middle" textLength="51.5" lengthAdjust="spacingAndGlyphs" fill="#1a1a1a">1200</text>
<text x="772" y="691.8" font-size="27.7" text-anchor="middle" textLength="237" lengthAdjust="spacingAndGlyphs" fill="#111">Residue Index</text>
<text transform="translate(62,326.5) rotate(-90)" font-size="33.5" text-anchor="middle" textLength="113" lengthAdjust="spacingAndGlyphs" fill="#111">RMSF (<tspan font-style="italic">Å</tspan>)</text>
<text x="9.5" y="55.5" font-family="Liberation Serif" font-weight="bold" font-size="49" textLength="65.5" lengthAdjust="spacingAndGlyphs" fill="#000">(A)</text>
<clipPath id="cB"><rect x="128.3" y="733.8" width="1309.7" height="679.1000000000001"/></clipPath>
<g clip-path="url(#cB)">
<rect x="146.6" y="733.8" width="6.0" height="679.1000000000001" fill="#d9f1f6"/>
<rect x="157.6" y="733.8" width="6.4" height="679.1000000000001" fill="#d9f1f6"/>
<rect x="197.0" y="733.8" width="6.6" height="679.1000000000001" fill="#d9f1f6"/>
<rect x="207.6" y="733.8" width="3.8" height="679.1000000000001" fill="#d9f1f6"/>
<rect x="227.6" y="733.8" width="4.4" height="679.1000000000001" fill="#d9f1f6"/>
<rect x="321.4" y="733.8" width="10.0" height="679.1000000000001" fill="#d9f1f6"/>
<rect x="335.4" y="733.8" width="10.0" height="679.1000000000001" fill="#d9f1f6"/>
<rect x="383.6" y="733.8" width="5.0" height="679.1000000000001" fill="#d9f1f6"/>
<rect x="420.0" y="733.8" width="5.0" height="679.1000000000001" fill="#d9f1f6"/>
<rect x="470.0" y="733.8" width="9.0" height="679.1000000000001" fill="#d9f1f6"/>
<rect x="490.4" y="733.8" width="10.2" height="679.1000000000001" fill="#d9f1f6"/>
<rect x="509.0" y="733.8" width="1.6" height="679.1000000000001" fill="#d9f1f6"/>
<rect x="523.0" y="733.8" width="3.4" height="679.1000000000001" fill="#d9f1f6"/>
<rect x="539.4" y="733.8" width="10.2" height="679.1000000000001" fill="#d9f1f6"/>
<rect x="558.0" y="733.8" width="2.0" height="679.1000000000001" fill="#d9f1f6"/>
<rect x="562.0" y="733.8" width="8.0" height="679.1000000000001" fill="#d9f1f6"/>
<rect x="574.4" y="733.8" width="2.6" height="679.1000000000001" fill="#d9f1f6"/>
<rect x="579.4" y="733.8" width="3.6" height="679.1000000000001" fill="#d9f1f6"/>
<rect x="614.0" y="733.8" width="5.0" height="679.1000000000001" fill="#d9f1f6"/>
<rect x="625.0" y="733.8" width="2.0" height="679.1000000000001" fill="#d9f1f6"/>
<rect x="872.9" y="733.8" width="1.4" height="679.1000000000001" fill="#d9f1f6"/>
<rect x="882.4" y="733.8" width="1.4" height="679.1000000000001" fill="#d9f1f6"/>
<rect x="903.0" y="733.8" width="4.6" height="679.1000000000001" fill="#d9f1f6"/>
<rect x="919.5" y="733.8" width="7.7" height="679.1000000000001" fill="#d9f1f6"/>
<rect x="962.9" y="733.8" width="3.5" height="679.1000000000001" fill="#d9f1f6"/>
<rect x="971.3" y="733.8" width="4.9" height="679.1000000000001" fill="#d9f1f6"/>
<rect x="980.4" y="733.8" width="2.8" height="679.1000000000001" fill="#d9f1f6"/>
<rect x="1049.0" y="733.8" width="2.8" height="679.1000000000001" fill="#d9f1f6"/>
<rect x="1057.4" y="733.8" width="2.1" height="679.1000000000001" fill="#d9f1f6"/>
<rect x="1218.0" y="733.8" width="4.0" height="679.1000000000001" fill="#d9f1f6"/>
<rect x="1231.0" y="733.8" width="6.0" height="679.1000000000001" fill="#d9f1f6"/>
<rect x="1241.0" y="733.8" width="8.0" height="679.1000000000001" fill="#d9f1f6"/>
<rect x="169.6" y="733.8" width="10.8" height="679.1000000000001" fill="#fbe0db"/>
<rect x="238.6" y="733.8" width="13.0" height="679.1000000000001" fill="#fbe0db"/>
<rect x="256.0" y="733.8" width="4.0" height="679.1000000000001" fill="#fbe0db"/>
<rect x="266.0" y="733.8" width="16.6" height="679.1000000000001" fill="#fbe0db"/>
<rect x="352.4" y="733.8" width="6.6" height="679.1000000000001" fill="#fbe0db"/>
<rect x="404.6" y="733.8" width="8.8" height="679.1000000000001" fill="#fbe0db"/>
<rect x="427.0" y="733.8" width="3.4" height="679.1000000000001" fill="#fbe0db"/>
<rect x="631.6" y="733.8" width="3.4" height="679.1000000000001" fill="#fbe0db"/>
<rect x="642.0" y="733.8" width="8.0" height="679.1000000000001" fill="#fbe0db"/>
<rect x="661.0" y="733.8" width="7.6" height="679.1000000000001" fill="#fbe0db"/>
<rect x="681.6" y="733.8" width="3.4" height="679.1000000000001" fill="#fbe0db"/>
<rect x="693.6" y="733.8" width="10.0" height="679.1000000000001" fill="#fbe0db"/>
<rect x="728.6" y="733.8" width="7.4" height="679.1000000000001" fill="#fbe0db"/>
<rect x="744.0" y="733.8" width="10.0" height="679.1000000000001" fill="#fbe0db"/>
<rect x="768.0" y="733.8" width="9.0" height="679.1000000000001" fill="#fbe0db"/>
<rect x="780.0" y="733.8" width="17.0" height="679.1000000000001" fill="#fbe0db"/>
<rect x="803.0" y="733.8" width="10.4" height="679.1000000000001" fill="#fbe0db"/>
<rect x="819.4" y="733.8" width="17.6" height="679.1000000000001" fill="#fbe0db"/>
<rect x="849.0" y="733.8" width="12.0" height="679.1000000000001" fill="#fbe0db"/>
<rect x="866.0" y="733.8" width="4.0" height="679.1000000000001" fill="#fbe0db"/>
<rect x="931.6" y="733.8" width="19.4" height="679.1000000000001" fill="#fbe0db"/>
<rect x="983.9" y="733.8" width="2.8" height="679.1000000000001" fill="#fbe0db"/>
<rect x="1001.0" y="733.8" width="9.0" height="679.1000000000001" fill="#fbe0db"/>
<rect x="1017.0" y="733.8" width="22.6" height="679.1000000000001" fill="#fbe0db"/>
<rect x="1069.6" y="733.8" width="2.4" height="679.1000000000001" fill="#fbe0db"/>
<rect x="1087.6" y="733.8" width="6.0" height="679.1000000000001" fill="#fbe0db"/>
<rect x="1106.0" y="733.8" width="17.0" height="679.1000000000001" fill="#fbe0db"/>
<rect x="1125.0" y="733.8" width="9.0" height="679.1000000000001" fill="#fbe0db"/>
<rect x="1146.6" y="733.8" width="9.4" height="679.1000000000001" fill="#fbe0db"/>
<rect x="1163.0" y="733.8" width="16.0" height="679.1000000000001" fill="#fbe0db"/>
<rect x="1202.4" y="733.8" width="4.6" height="679.1000000000001" fill="#fbe0db"/>
<rect x="1284.4" y="733.8" width="63.6" height="679.1000000000001" fill="#fbe0db"/>
<rect x="1351.0" y="733.8" width="5.0" height="679.1000000000001" fill="#fbe0db"/>
<rect x="1364.4" y="733.8" width="45.6" height="679.1000000000001" fill="#fbe0db"/>
<rect x="1412.4" y="733.8" width="7.6" height="679.1000000000001" fill="#fbe0db"/>
<rect x="1424.0" y="733.8" width="7.0" height="679.1000000000001" fill="#fbe0db"/>
<path d="M890.6,1412.9 L890.6,1283.9 L891.6,1295.4 L892.6,1307.0 L893.6,1317.6 L894.6,1289.0 L895.6,1260.4 L896.6,1231.9 L897.0,1220.4 L897.0,1412.9Z M898.6,1412.9 L898.6,1230.6 L899.6,1255.6 L900.6,1279.2 L901.6,1297.2 L902.6,1315.2 L903.6,1326.0 L904.0,1325.0 L904.0,1412.9Z M920.0,1412.9 L920.0,1319.6 L921.0,1325.8 L922.0,1323.1 L923.0,1318.8 L924.0,1314.4 L925.0,1310.1 L925.0,1412.9Z M959.4,1412.9 L959.4,1324.9 L960.4,1325.7 L961.4,1326.5 L962.4,1323.7 L962.4,1412.9Z M972.0,1412.9 L972.0,1325.0 L973.0,1326.0 L974.0,1323.5 L975.0,1309.5 L976.0,1295.5 L977.0,1286.2 L978.0,1284.2 L979.0,1282.2 L980.0,1280.2 L981.0,1277.3 L982.0,1268.3 L982.6,1262.9 L982.6,1412.9Z M1045.0,1412.9 L1045.0,1297.3 L1046.0,1291.3 L1047.0,1301.1 L1048.0,1312.1 L1049.0,1322.4 L1050.0,1317.0 L1051.0,1311.6 L1051.0,1412.9Z M1058.0,1412.9 L1058.0,1321.7 L1059.0,1311.7 L1060.0,1301.7 L1061.0,1291.7 L1061.6,1285.7 L1061.6,1412.9Z" fill="#008000"/>
<path d="M128.5,1187.7 L129.3,1226.9 L130.1,1269.2 L130.9,1277.2 L131.6,1278.7 L132.4,1275.8 L133.1,1283.1 L133.9,1289.8 L134.7,1310.9 L135.5,1318.1 L136.2,1291.5 L137.0,1261.1 L137.8,1227.3 L138.6,1258.7 L139.4,1299.4 L140.4,1288.9 L141.3,1271.5 L142.1,1273.9 L142.8,1271.6 L143.6,1264.5 L144.4,1268.5 L145.2,1277.6 L145.9,1287.8 L146.8,1290.8 L147.7,1295.9 L148.6,1310.3 L149.4,1311.1 L150.2,1296.8 L151.0,1296.9 L151.8,1283.1 L152.5,1276.7 L153.3,1264.4 L154.1,1250.6 L154.9,1258.8 L155.6,1267.2 L156.4,1269.2 L157.2,1282.5 L158.0,1284.3 L158.7,1297.1 L159.5,1301.4 L160.3,1302.7 L161.1,1299.4 L161.9,1302.4 L162.8,1298.9 L163.7,1297.7 L164.6,1292.5 L165.4,1287.0 L166.3,1286.6 L167.2,1295.1 L168.1,1290.1 L168.6,1299.9 L169.2,1304.1 L170.0,1296.8 L170.8,1280.4 L171.5,1273.8 L172.3,1279.4 L173.1,1271.0 L173.9,1276.2 L174.7,1274.2 L175.4,1258.8 L176.2,1257.5 L177.0,1252.5 L177.8,1247.2 L178.5,1245.9 L179.3,1233.2 L180.1,1224.5 L180.9,1220.3 L181.7,1217.4 L182.6,1219.3 L183.5,1222.3 L184.3,1227.3 L185.1,1215.2 L185.9,1207.6 L186.7,1194.7 L187.4,1192.7 L188.2,1192.7 L188.9,1189.9 L189.7,1192.4 L190.6,1195.6 L191.6,1203.6 L192.5,1215.7 L193.3,1211.0 L194.0,1208.1 L194.8,1211.0 L195.6,1222.2 L196.4,1237.1 L197.1,1250.6 L197.9,1261.1 L198.7,1277.8 L199.5,1290.1 L200.1,1302.0 L200.6,1306.4 L201.4,1291.8 L202.2,1291.3 L202.9,1273.3 L203.7,1266.9 L204.6,1272.3 L205.5,1285.4 L206.5,1287.8 L207.4,1283.7 L208.3,1282.6 L209.3,1285.5 L210.0,1277.3 L210.8,1264.1 L211.5,1253.1 L212.3,1238.9 L213.1,1253.1 L213.8,1255.0 L214.6,1269.2 L215.4,1281.7 L216.2,1290.4 L216.9,1304.1 L217.7,1310.4 L218.5,1303.8 L219.3,1311.1 L220.1,1310.3 L221.0,1315.6 L221.9,1317.6 L222.7,1325.0 L223.5,1329.9 L224.3,1332.3 L225.1,1332.0 L225.9,1325.4 L226.6,1325.9 L227.4,1318.1 L228.3,1294.7 L229.1,1276.0 L230.0,1258.0 L230.9,1238.9 L231.7,1221.8 L232.4,1204.3 L233.2,1192.4 L234.0,1176.4 L234.8,1155.9 L235.5,1134.2 L236.5,1124.5 L237.4,1126.6 L238.3,1117.9 L239.3,1163.0 L240.2,1215.7 L241.0,1230.4 L241.8,1249.6 L242.5,1273.8 L243.3,1283.8 L244.1,1283.9 L244.9,1294.8 L245.7,1297.8 L246.6,1295.2 L247.5,1292.9 L248.4,1290.1 L249.2,1291.8 L250.1,1284.5 L251.0,1285.2 L251.8,1287.8 L252.7,1290.6 L253.6,1286.3 L254.5,1283.0 L255.3,1285.5 L256.2,1271.5 L257.1,1264.4 L258.0,1253.7 L258.8,1238.9 L259.6,1222.8 L260.3,1206.0 L261.1,1182.3 L261.8,1166.8 L262.5,1193.3 L263.2,1226.6 L263.9,1250.6 L264.9,1269.7 L265.8,1297.1 L266.7,1297.3 L267.6,1309.7 L268.4,1312.0 L269.3,1313.4 L270.2,1314.4 L271.2,1314.1 L272.1,1314.9 L273.0,1314.5 L274.0,1308.7 L274.9,1309.6 L275.8,1300.6 L276.7,1305.5 L277.7,1295.6 L278.6,1297.1 L279.5,1292.5 L280.5,1285.6 L281.4,1282.8 L282.3,1279.6 L283.3,1280.8 L284.1,1270.3 L285.0,1266.5 L285.9,1257.9 L286.8,1245.9 L287.6,1254.6 L288.5,1261.4 L289.4,1262.6 L290.2,1273.8 L291.0,1283.7 L291.8,1286.0 L292.6,1297.1 L293.4,1291.0 L294.3,1295.7 L295.2,1285.0 L296.1,1285.5 L296.8,1288.7 L297.6,1305.7 L298.4,1308.7 L299.3,1313.4 L300.3,1320.8 L301.2,1332.0 L301.9,1327.0 L302.7,1321.1 L303.5,1312.3 L304.2,1301.8 L305.1,1303.1 L306.0,1291.6 L306.8,1289.4 L307.7,1290.1 L308.5,1284.6 L309.2,1290.4 L310.0,1283.1 L310.9,1279.2 L311.8,1284.9 L312.6,1279.0 L313.5,1278.5 L314.3,1271.9 L315.1,1278.6 L315.8,1271.5 L316.7,1267.2 L317.6,1266.6 L318.5,1264.5 L319.3,1266.9 L320.1,1275.1 L320.8,1287.8 L321.6,1289.6 L322.4,1301.8 L323.2,1297.4 L324.0,1300.0 L324.8,1307.2 L325.6,1304.1 L326.4,1281.9 L327.2,1273.2 L327.9,1250.6 L328.9,1224.9 L329.8,1192.4 L330.7,1160.6 L331.7,1127.2 L332.4,1148.9 L333.2,1180.5 L334.0,1204.0 L334.8,1225.9 L335.5,1241.6 L336.3,1262.2 L337.3,1273.8 L338.2,1283.4 L339.1,1287.8 L340.0,1290.1 L341.0,1298.3 L341.9,1297.1 L342.8,1302.7 L343.8,1301.8 L344.7,1298.5 L345.6,1308.1 L346.6,1302.5 L347.5,1308.7 L348.4,1308.7 L349.2,1307.6 L350.0,1305.0 L350.8,1297.1 L351.6,1301.9 L352.5,1295.9 L353.4,1297.5 L354.2,1301.8 L355.1,1285.7 L356.0,1275.7 L356.9,1262.0 L357.7,1255.2 L358.5,1230.7 L359.3,1208.4 L360.1,1192.4 L360.8,1165.0 L361.6,1150.5 L362.4,1122.6 L363.2,1098.8 L363.9,1077.8 L364.7,1059.7 L365.5,1081.2 L366.3,1103.2 L367.0,1117.9 L367.9,1095.9 L368.7,1064.4 L369.6,1014.1 L370.5,953.8 L371.3,993.6 L372.1,1045.0 L372.9,1087.6 L373.7,1099.4 L374.5,1117.9 L375.2,1186.4 L375.9,1250.6 L376.7,1149.5 L377.5,1057.4 L378.3,1099.8 L379.1,1150.5 L379.8,1192.4 L380.6,1210.5 L381.4,1227.7 L382.2,1238.9 L382.9,1261.2 L383.7,1273.1 L384.5,1294.8 L385.4,1301.2 L386.2,1305.5 L387.1,1306.8 L388.0,1306.4 L388.9,1301.1 L389.7,1302.5 L390.6,1306.5 L391.5,1304.1 L392.3,1304.0 L393.0,1304.2 L393.8,1308.7 L394.6,1305.3 L395.4,1303.4 L396.1,1297.1 L396.9,1304.7 L397.7,1308.9 L398.5,1308.7 L399.3,1308.7 L400.2,1309.8 L401.1,1312.5 L402.0,1320.4 L402.8,1317.5 L403.7,1317.1 L404.6,1321.9 L405.4,1320.4 L406.2,1314.0 L407.0,1308.4 L407.8,1308.7 L408.6,1296.0 L409.5,1293.0 L410.4,1274.4 L411.3,1269.2 L412.0,1264.6 L412.8,1272.5 L413.5,1271.0 L414.3,1269.2 L415.0,1275.6 L415.7,1290.2 L416.4,1297.1 L417.1,1296.3 L417.9,1305.3 L418.7,1307.8 L419.4,1306.4 L420.3,1291.5 L421.2,1289.3 L422.0,1275.3 L422.9,1262.2 L423.6,1248.0 L424.3,1221.8 L425.0,1208.7 L425.8,1220.6 L426.6,1220.8 L427.3,1228.0 L428.1,1236.3 L428.8,1215.3 L429.6,1185.1 L430.3,1163.2 L431.1,1162.2 L431.9,1154.5 L432.7,1150.2 L433.5,1149.7 L434.3,1164.3 L435.0,1179.2 L435.7,1190.3 L436.7,1227.4 L437.6,1260.7 L438.5,1247.1 L439.4,1236.1 L440.3,1225.5 L441.2,1231.8 L442.1,1251.3 L443.0,1258.0 L444.0,1222.3 L444.9,1190.3 L445.6,1158.9 L446.4,1124.6 L447.1,1095.5 L447.8,1039.2 L448.5,974.3 L449.2,919.5 L450.2,929.2 L451.1,933.1 L452.1,889.1 L453.0,835.6 L453.8,847.4 L454.5,862.3 L455.2,881.6 L455.9,892.2 L456.6,904.2 L457.4,919.5 L458.3,1016.2 L459.3,1109.1 L460.2,1140.2 L461.1,1182.2 L462.0,1212.0 L462.9,1212.1 L463.8,1222.8 L464.7,1222.8 L465.6,1235.0 L466.5,1234.0 L467.4,1244.4 L468.3,1256.5 L469.2,1276.1 L470.1,1293.2 L470.9,1290.3 L471.7,1295.9 L472.5,1287.6 L473.3,1295.2 L474.2,1290.5 L475.0,1294.8 L475.8,1287.3 L476.6,1293.5 L477.4,1293.2 L478.1,1260.2 L478.8,1233.2 L479.6,1209.2 L480.5,1221.1 L481.4,1236.8 L482.3,1258.0 L483.2,1246.4 L484.0,1224.9 L484.9,1215.5 L485.8,1195.7 L486.6,1209.1 L487.4,1210.1 L488.2,1226.2 L489.0,1230.9 L489.9,1245.6 L490.8,1263.0 L491.8,1285.1 L492.7,1306.2 L493.6,1315.2 L494.5,1333.8 L495.3,1338.5 L496.1,1342.0 L496.9,1337.0 L497.7,1338.3 L498.5,1344.6 L499.3,1346.6 L500.1,1342.3 L501.0,1340.4 L501.8,1337.1 L502.6,1331.1 L503.5,1324.2 L504.3,1310.9 L505.2,1293.5 L506.1,1285.1 L506.9,1292.2 L507.7,1290.4 L508.5,1303.9 L509.4,1304.0 L510.2,1298.5 L511.0,1287.7 L511.8,1284.1 L512.6,1280.3 L513.4,1268.8 L514.3,1270.6 L515.2,1260.2 L516.1,1258.0 L516.9,1258.0 L517.7,1262.4 L518.6,1267.6 L519.4,1282.5 L520.2,1285.1 L521.1,1279.0 L522.0,1259.9 L522.9,1252.6 L523.7,1258.7 L524.5,1273.4 L525.3,1274.7 L526.1,1285.1 L526.9,1280.8 L527.6,1272.4 L528.3,1260.7 L529.1,1259.9 L529.9,1264.6 L530.7,1268.6 L531.6,1278.2 L532.4,1276.9 L533.2,1277.4 L534.0,1290.9 L534.8,1295.9 L535.6,1296.2 L536.4,1304.0 L537.3,1310.1 L538.2,1322.7 L539.1,1333.8 L539.9,1338.0 L540.8,1337.6 L541.6,1340.7 L542.4,1341.9 L543.2,1339.2 L544.1,1334.5 L545.0,1318.5 L545.9,1312.1 L546.8,1272.6 L547.7,1235.9 L548.6,1203.8 L549.5,1178.4 L550.4,1154.8 L551.3,1136.1 L552.3,1071.3 L553.2,996.7 L553.9,1043.7 L554.7,1094.6 L555.4,1149.7 L556.3,1173.4 L557.2,1202.9 L558.1,1230.9 L559.0,1268.6 L559.9,1303.9 L560.8,1333.8 L561.7,1330.4 L562.6,1330.8 L563.5,1338.2 L564.4,1340.1 L565.3,1339.6 L566.2,1336.5 L567.1,1323.1 L568.0,1314.5 L568.9,1298.6 L569.7,1280.1 L570.5,1262.8 L571.4,1247.7 L572.2,1236.3 L573.1,1255.8 L574.0,1264.4 L574.9,1285.1 L575.8,1277.1 L576.6,1273.1 L577.5,1277.0 L578.4,1268.8 L579.2,1274.4 L580.0,1273.6 L580.8,1280.3 L581.6,1290.0 L582.5,1293.2 L583.3,1296.1 L584.1,1302.4 L584.9,1310.8 L585.7,1318.7 L586.5,1320.3 L587.3,1306.1 L588.1,1297.5 L589.0,1279.3 L589.8,1264.9 L590.6,1255.3 L591.5,1272.7 L592.4,1284.2 L593.3,1304.0 L594.1,1314.3 L594.9,1316.9 L595.7,1315.6 L596.5,1324.9 L597.3,1331.1 L598.2,1314.6 L599.1,1311.8 L600.0,1301.5 L600.9,1285.1 L601.8,1256.0 L602.7,1223.4 L603.6,1187.6 L604.5,1194.5 L605.4,1202.9 L606.3,1217.4 L607.1,1198.5 L607.9,1181.3 L608.7,1174.4 L609.5,1155.1 L610.4,1182.9 L611.3,1208.7 L612.2,1230.9 L613.0,1253.7 L613.7,1263.3 L614.4,1285.1 L615.2,1268.1 L616.0,1261.2 L616.8,1240.1 L617.7,1230.9 L618.5,1212.0 L619.3,1193.7 L620.1,1170.7 L620.9,1152.0 L621.7,1128.0 L622.6,1153.6 L623.5,1171.6 L624.4,1190.3 L625.3,1208.8 L626.2,1232.2 L627.1,1258.0 L628.0,1239.6 L628.9,1209.7 L629.8,1190.3 L630.7,1183.2 L631.5,1171.4 L632.3,1161.9 L633.1,1143.8 L633.9,1136.1 L634.8,1061.7 L635.7,990.0 L636.6,919.5 L637.4,800.5 L638.2,675.8 L639.0,675.8 L639.9,675.8 L640.7,1109.1 L641.6,1144.9 L642.5,1167.9 L643.4,1203.8 L644.3,1226.3 L645.2,1243.1 L646.1,1258.0 L647.0,1269.1 L647.9,1283.0 L648.8,1301.3 L649.7,1307.6 L650.6,1314.0 L651.5,1317.1 L652.4,1326.4 L653.3,1323.7 L654.2,1333.8 L655.1,1321.5 L656.0,1316.0 L656.9,1304.0 L657.7,1307.3 L658.5,1305.6 L659.4,1304.2 L660.2,1301.1 L661.0,1298.6 L661.8,1292.6 L662.6,1291.3 L663.4,1297.1 L664.2,1285.2 L665.0,1287.8 L665.9,1282.8 L666.7,1284.8 L667.5,1283.5 L668.3,1276.7 L669.1,1274.2 L670.0,1272.4 L670.9,1257.9 L671.7,1251.4 L672.6,1249.9 L673.4,1252.9 L674.2,1260.0 L675.1,1272.0 L675.9,1279.6 L676.7,1281.1 L677.5,1285.1 L678.3,1297.4 L679.1,1298.6 L679.9,1304.0 L680.7,1307.2 L681.6,1319.4 L682.4,1320.5 L683.2,1329.9 L684.0,1333.8 L684.8,1333.2 L685.6,1320.4 L686.4,1321.2 L687.2,1314.8 L688.1,1306.7 L688.9,1299.2 L689.7,1297.7 L690.5,1293.2 L691.3,1295.0 L692.1,1287.8 L692.9,1285.3 L693.7,1295.5 L694.6,1292.3 L695.4,1291.8 L696.2,1298.6 L697.1,1301.2 L698.0,1291.3 L698.9,1290.0 L699.8,1292.3 L700.7,1289.2 L701.6,1290.5 L702.4,1292.2 L703.2,1282.1 L704.0,1286.6 L704.8,1276.9 L705.7,1276.9 L706.6,1281.6 L707.5,1299.0 L708.4,1304.0 L709.2,1292.3 L710.0,1288.1 L710.8,1287.8 L711.6,1279.3 L712.4,1268.8 L713.2,1280.2 L714.0,1281.2 L714.9,1294.4 L715.7,1298.7 L716.5,1312.1 L717.4,1322.3 L718.2,1318.1 L719.1,1326.9 L720.0,1333.8 L720.7,1328.3 L721.4,1325.9 L722.1,1328.6 L723.0,1322.8 L723.8,1328.6 L724.7,1320.6 L725.5,1327.3 L726.4,1322.9 L727.2,1325.8 L728.1,1325.5 L728.9,1315.5 L729.8,1316.6 L730.6,1317.2 L731.6,1317.7 L732.5,1310.4 L733.4,1311.5 L734.3,1311.6 L735.3,1306.5 L736.3,1305.9 L737.1,1266.2 L737.8,1235.6 L738.6,1197.8 L739.5,1231.4 L740.3,1274.0 L741.2,1305.9 L742.1,1312.5 L743.0,1314.7 L743.9,1317.7 L744.9,1325.8 L745.8,1323.4 L746.8,1332.5 L747.7,1331.5 L748.6,1331.4 L749.6,1336.1 L750.5,1340.0 L751.5,1336.0 L752.4,1338.8 L753.4,1342.8 L754.2,1336.5 L755.1,1341.7 L755.9,1332.8 L756.8,1329.2 L757.7,1331.5 L758.5,1320.8 L759.4,1312.2 L760.2,1313.8 L761.1,1299.8 L761.9,1294.5 L762.9,1309.4 L763.8,1310.4 L764.8,1325.8 L765.7,1330.5 L766.7,1333.1 L767.6,1331.5 L768.5,1334.7 L769.3,1331.3 L770.2,1330.8 L771.0,1330.5 L771.9,1325.8 L772.7,1329.4 L773.6,1323.2 L774.4,1330.5 L775.3,1330.0 L776.1,1325.8 L777.1,1321.8 L778.0,1312.6 L779.0,1303.0 L779.9,1307.6 L780.9,1313.9 L781.8,1325.8 L782.7,1321.9 L783.5,1321.1 L784.4,1319.4 L785.2,1328.0 L786.1,1322.9 L786.9,1316.9 L787.8,1315.2 L788.6,1315.5 L789.5,1312.8 L790.4,1314.4 L791.2,1307.4 L792.1,1312.3 L792.9,1303.3 L793.8,1300.6 L794.6,1303.0 L795.6,1278.4 L796.5,1257.8 L797.5,1240.5 L798.4,1262.2 L799.4,1278.5 L800.3,1294.5 L801.3,1303.8 L802.2,1304.7 L803.2,1311.6 L804.0,1314.9 L804.9,1318.7 L805.7,1311.6 L806.6,1312.8 L807.4,1317.2 L808.3,1314.2 L809.1,1319.8 L810.0,1318.3 L810.8,1317.8 L811.7,1317.2 L812.6,1307.5 L813.6,1303.9 L814.5,1294.5 L815.3,1271.2 L816.0,1240.8 L816.8,1220.6 L817.7,1232.5 L818.7,1246.0 L819.6,1266.1 L820.5,1271.0 L821.3,1279.7 L822.2,1286.4 L823.1,1288.8 L823.9,1293.8 L824.8,1294.2 L825.6,1294.8 L826.5,1300.5 L827.3,1305.9 L828.2,1309.0 L829.0,1303.0 L829.9,1302.8 L830.7,1309.8 L831.6,1308.7 L832.5,1307.4 L833.5,1310.2 L834.4,1314.4 L835.4,1303.0 L836.3,1304.8 L837.3,1294.5 L838.2,1278.4 L839.2,1267.4 L840.1,1257.5 L841.1,1252.7 L842.0,1245.8 L843.0,1246.2 L843.9,1228.0 L844.9,1215.7 L845.8,1203.5 L846.8,1213.9 L847.7,1229.3 L848.6,1246.2 L849.6,1247.2 L850.5,1253.5 L851.5,1263.2 L852.4,1259.2 L853.4,1268.6 L854.3,1266.1 L855.3,1252.4 L856.2,1246.0 L857.2,1231.9 L858.1,1239.0 L859.1,1254.9 L860.0,1260.4 L860.9,1266.9 L861.7,1271.1 L862.6,1264.5 L863.4,1266.8 L864.3,1274.6 L865.1,1275.2 L866.0,1286.4 L866.8,1293.2 L867.7,1297.5 L868.6,1297.3 L869.4,1294.7 L870.3,1297.9 L871.1,1299.4 L872.0,1305.2 L872.8,1308.7 L873.8,1309.6 L874.7,1319.1 L875.7,1322.9 L876.6,1318.7 L877.5,1313.8 L878.4,1300.4 L879.4,1297.3 L880.2,1300.0 L881.1,1308.6 L881.9,1307.7 L882.8,1314.4 L883.6,1314.4 L884.5,1312.4 L885.3,1303.7 L886.2,1298.0 L887.0,1297.3 L888.0,1294.6 L888.9,1279.9 L889.9,1274.6 L890.8,1284.4 L891.7,1292.8 L892.7,1310.3 L893.6,1317.2 L894.6,1292.8 L895.6,1256.0 L896.6,1229.9 L897.6,1203.5 L898.5,1222.6 L899.5,1246.2 L900.4,1274.6 L901.3,1295.3 L902.3,1310.4 L903.2,1325.8 L904.2,1319.3 L905.1,1323.7 L906.0,1317.3 L906.9,1317.2 L907.8,1308.5 L908.6,1304.5 L909.5,1308.7 L910.4,1296.7 L911.2,1297.3 L912.2,1292.8 L913.1,1301.4 L914.1,1297.3 L914.9,1294.0 L915.8,1304.6 L916.6,1299.6 L917.5,1303.0 L918.4,1307.3 L919.3,1319.0 L920.2,1317.5 L921.2,1325.8 L922.1,1317.0 L923.0,1320.0 L924.0,1311.4 L924.9,1312.9 L925.8,1308.6 L926.8,1305.6 L927.7,1297.3 L928.6,1301.1 L929.4,1314.9 L930.3,1314.2 L931.1,1325.8 L932.0,1332.3 L932.8,1327.0 L933.7,1336.9 L934.5,1339.8 L935.4,1340.0 L936.2,1345.0 L937.1,1335.3 L937.9,1335.3 L938.8,1337.4 L939.6,1340.0 L940.5,1334.0 L941.3,1338.1 L942.2,1327.4 L943.1,1324.4 L943.9,1325.8 L944.9,1319.8 L945.8,1315.3 L946.8,1311.6 L947.7,1306.7 L948.6,1292.5 L949.5,1290.1 L950.4,1277.4 L951.3,1292.4 L952.2,1295.7 L953.0,1309.8 L953.9,1317.2 L954.7,1314.0 L955.6,1315.0 L956.4,1316.5 L957.3,1325.2 L958.1,1322.9 L959.0,1322.7 L960.0,1329.0 L960.9,1320.5 L961.8,1325.8 L962.8,1317.3 L963.8,1311.8 L964.7,1314.3 L965.7,1301.1 L966.7,1300.2 L967.5,1301.1 L968.4,1306.4 L969.2,1309.9 L970.1,1322.3 L970.9,1322.9 L971.9,1326.7 L972.8,1323.5 L973.8,1325.8 L974.7,1310.6 L975.7,1303.4 L976.6,1286.0 L977.5,1279.5 L978.3,1277.9 L979.2,1278.7 L980.0,1278.6 L980.9,1277.4 L981.8,1272.1 L982.8,1256.2 L983.7,1251.8 L984.7,1224.7 L985.6,1191.3 L986.6,1166.5 L987.6,1079.6 L988.6,995.9 L989.3,950.5 L990.0,899.2 L990.7,915.9 L991.5,922.9 L992.2,939.1 L993.0,892.5 L993.7,853.7 L994.4,801.8 L995.1,758.5 L996.1,831.4 L997.1,910.6 L997.9,1013.4 L998.8,1109.7 L999.8,1185.4 L1000.8,1251.8 L1001.7,1262.7 L1002.7,1264.5 L1003.6,1274.6 L1004.6,1273.4 L1005.5,1284.5 L1006.5,1286.0 L1007.4,1271.8 L1008.4,1269.7 L1009.3,1257.5 L1010.3,1256.7 L1011.2,1257.8 L1012.2,1251.8 L1012.9,1218.4 L1013.6,1180.8 L1014.3,1180.2 L1015.3,1210.4 L1016.3,1249.2 L1017.2,1278.3 L1018.2,1290.7 L1019.1,1301.2 L1020.1,1307.2 L1021.1,1315.3 L1022.0,1318.3 L1023.0,1321.6 L1023.9,1318.4 L1024.7,1323.4 L1025.6,1330.3 L1026.4,1324.2 L1027.3,1330.3 L1028.2,1334.8 L1029.0,1337.4 L1029.9,1334.4 L1030.8,1339.4 L1031.6,1336.0 L1032.6,1341.5 L1033.6,1335.0 L1034.5,1339.9 L1035.5,1346.0 L1036.5,1347.8 L1037.4,1344.7 L1038.3,1334.9 L1039.1,1336.3 L1040.0,1322.8 L1040.9,1326.1 L1041.7,1315.8 L1042.6,1314.5 L1043.5,1308.1 L1044.3,1302.4 L1045.2,1295.5 L1046.1,1289.9 L1047.0,1298.2 L1048.0,1315.5 L1049.0,1321.6 L1049.9,1312.2 L1050.8,1316.2 L1051.8,1305.7 L1052.7,1301.4 L1053.7,1303.5 L1054.7,1307.6 L1055.7,1312.6 L1056.6,1324.8 L1057.6,1324.5 L1058.6,1319.2 L1059.6,1306.2 L1060.6,1299.9 L1061.5,1288.4 L1062.5,1275.4 L1063.5,1299.2 L1064.4,1310.7 L1065.4,1333.2 L1066.3,1317.6 L1067.3,1314.1 L1068.2,1294.4 L1069.2,1287.0 L1070.1,1280.6 L1071.0,1277.3 L1072.0,1267.7 L1072.9,1258.1 L1073.8,1262.9 L1074.6,1260.8 L1075.5,1266.0 L1076.4,1272.6 L1077.3,1280.0 L1078.3,1294.0 L1079.3,1307.2 L1080.2,1315.6 L1081.2,1320.4 L1082.1,1321.6 L1083.0,1310.5 L1083.9,1306.9 L1084.7,1306.5 L1085.6,1295.6 L1086.4,1295.8 L1087.2,1290.6 L1087.9,1284.1 L1088.9,1283.6 L1089.8,1285.2 L1090.8,1292.8 L1091.7,1289.1 L1092.5,1277.3 L1093.4,1278.1 L1094.3,1264.9 L1095.1,1263.9 L1096.1,1255.4 L1097.1,1236.9 L1098.0,1226.4 L1098.7,1223.8 L1099.4,1209.1 L1100.0,1206.2 L1100.8,1183.1 L1101.6,1149.8 L1102.3,1128.3 L1103.3,1162.3 L1104.3,1209.0 L1105.2,1243.7 L1106.2,1254.1 L1107.2,1271.9 L1108.1,1287.0 L1109.1,1295.1 L1110.0,1297.4 L1111.0,1310.1 L1111.9,1309.2 L1112.7,1317.9 L1113.6,1314.9 L1114.5,1326.3 L1115.3,1324.5 L1116.2,1327.6 L1117.1,1322.7 L1117.9,1332.8 L1118.8,1326.0 L1119.7,1330.3 L1120.5,1323.8 L1121.4,1322.7 L1122.3,1327.4 L1123.1,1321.9 L1124.0,1321.6 L1125.0,1322.0 L1125.9,1327.0 L1126.9,1327.4 L1127.7,1329.2 L1128.6,1337.7 L1129.5,1335.0 L1130.3,1342.2 L1131.2,1347.6 L1132.2,1342.6 L1133.1,1341.4 L1134.1,1341.8 L1135.1,1335.2 L1136.0,1327.4 L1137.0,1313.0 L1137.7,1308.6 L1138.3,1299.3 L1139.0,1287.0 L1139.8,1296.7 L1140.5,1305.3 L1141.3,1318.7 L1142.2,1320.9 L1143.0,1325.5 L1143.9,1336.8 L1144.8,1339.1 L1145.6,1341.8 L1146.6,1346.4 L1147.6,1346.3 L1148.5,1348.3 L1149.5,1346.6 L1150.4,1339.4 L1151.4,1344.7 L1152.3,1347.4 L1153.1,1338.2 L1154.0,1346.1 L1154.9,1338.6 L1155.7,1338.9 L1156.6,1337.2 L1157.5,1324.1 L1158.3,1318.4 L1159.2,1321.3 L1160.1,1313.0 L1160.9,1312.8 L1161.8,1308.7 L1162.7,1304.1 L1163.5,1292.0 L1164.4,1292.8 L1165.3,1294.6 L1166.1,1296.8 L1167.0,1303.8 L1167.9,1310.3 L1168.7,1313.0 L1169.6,1313.9 L1170.5,1312.4 L1171.3,1308.7 L1172.2,1312.2 L1173.1,1307.2 L1173.9,1301.1 L1174.8,1308.1 L1175.7,1300.3 L1176.5,1297.9 L1177.4,1298.5 L1178.3,1291.1 L1179.3,1282.6 L1180.3,1282.2 L1181.2,1272.5 L1182.2,1266.0 L1183.2,1263.9 L1184.0,1241.1 L1184.9,1208.4 L1185.8,1183.5 L1186.6,1162.9 L1187.4,1114.9 L1188.2,1067.5 L1188.9,1015.7 L1189.6,1049.1 L1190.3,1073.2 L1190.9,1105.2 L1191.7,1037.8 L1192.5,969.9 L1193.3,907.5 L1193.9,969.0 L1194.6,1036.9 L1195.3,1105.2 L1196.0,1147.6 L1196.8,1183.7 L1197.6,1220.6 L1198.5,1239.5 L1199.5,1247.5 L1200.5,1263.9 L1201.4,1288.4 L1202.4,1310.1 L1203.4,1327.4 L1204.2,1326.7 L1205.1,1321.1 L1206.0,1319.1 L1206.8,1314.0 L1207.7,1307.2 L1208.6,1301.6 L1209.4,1303.4 L1210.3,1296.2 L1211.1,1288.8 L1212.0,1287.0 L1213.0,1281.1 L1213.9,1286.2 L1214.9,1278.3 L1215.9,1281.6 L1216.8,1283.4 L1217.8,1292.8 L1218.7,1265.0 L1219.7,1244.2 L1220.7,1220.6 L1221.6,1153.3 L1222.6,1075.1 L1223.6,1007.0 L1224.3,1046.6 L1225.1,1096.2 L1225.9,1134.0 L1226.5,1163.3 L1227.2,1198.2 L1227.9,1235.0 L1228.8,1247.9 L1229.6,1254.5 L1230.5,1263.9 L1231.4,1274.5 L1232.2,1278.3 L1233.2,1292.7 L1234.1,1296.2 L1235.1,1307.2 L1236.0,1298.5 L1236.8,1278.5 L1237.7,1273.4 L1238.6,1258.1 L1239.5,1272.1 L1240.4,1274.8 L1241.3,1293.5 L1242.3,1297.1 L1243.2,1310.1 L1244.0,1296.8 L1244.9,1275.2 L1245.8,1261.4 L1246.6,1249.5 L1247.4,1215.7 L1248.2,1194.9 L1249.0,1162.9 L1249.6,1125.3 L1250.3,1079.3 L1251.0,1041.7 L1251.9,1073.8 L1252.9,1105.1 L1253.9,1134.0 L1254.5,1162.9 L1255.2,1206.2 L1255.9,1235.0 L1256.6,1186.7 L1257.4,1133.5 L1258.2,1076.3 L1259.1,869.6 L1259.9,672.3 L1260.7,672.3 L1261.5,672.3 L1262.3,672.3 L1263.1,672.3 L1264.0,1206.2 L1264.9,1227.8 L1265.9,1254.7 L1266.8,1272.6 L1267.8,1228.7 L1268.8,1185.8 L1269.7,1148.5 L1270.6,1113.0 L1271.5,1090.3 L1272.3,1053.1 L1273.2,1024.4 L1274.2,1068.1 L1275.1,1110.6 L1276.1,1148.5 L1276.9,1141.7 L1277.6,1136.3 L1278.4,1134.0 L1279.2,1103.3 L1279.9,1061.0 L1280.7,1030.1 L1281.7,1063.0 L1282.6,1086.8 L1283.6,1119.6 L1284.3,1150.0 L1285.1,1169.6 L1285.9,1187.0 L1286.8,1193.0 L1287.8,1201.0 L1288.7,1204.7 L1289.6,1214.0 L1290.5,1216.6 L1291.3,1220.4 L1292.2,1222.3 L1293.0,1225.2 L1293.9,1224.7 L1294.7,1231.5 L1295.5,1236.7 L1296.2,1242.5 L1297.0,1246.0 L1297.9,1254.7 L1298.8,1262.5 L1299.7,1267.0 L1300.5,1278.6 L1301.3,1278.0 L1302.1,1267.1 L1302.9,1272.1 L1303.7,1288.9 L1304.5,1281.0 L1305.3,1284.0 L1306.1,1291.5 L1306.9,1286.4 L1307.7,1278.0 L1308.5,1286.2 L1309.3,1265.7 L1310.1,1291.4 L1310.9,1280.0 L1311.8,1263.6 L1312.7,1275.9 L1313.6,1262.0 L1314.5,1271.2 L1315.4,1281.2 L1316.3,1278.0 L1317.0,1290.5 L1317.7,1291.8 L1318.4,1289.0 L1319.2,1297.0 L1320.0,1283.5 L1320.8,1296.4 L1321.6,1293.0 L1322.4,1287.7 L1323.2,1301.2 L1324.0,1293.6 L1324.8,1297.0 L1325.7,1303.0 L1326.6,1285.2 L1327.5,1289.0 L1328.4,1288.6 L1329.2,1290.4 L1330.1,1273.0 L1330.9,1260.4 L1331.7,1268.5 L1332.5,1253.5 L1333.3,1257.0 L1334.1,1261.4 L1334.9,1236.1 L1335.7,1247.3 L1336.5,1241.0 L1337.3,1247.5 L1338.1,1242.6 L1338.9,1231.8 L1339.7,1219.0 L1340.5,1201.3 L1341.3,1219.8 L1342.1,1196.9 L1342.9,1198.0 L1343.7,1203.1 L1344.5,1177.4 L1345.3,1174.2 L1346.1,1180.0 L1346.9,1181.3 L1347.7,1176.9 L1348.5,1164.6 L1349.3,1166.0 L1350.0,1161.8 L1350.8,1152.9 L1351.5,1150.0 L1352.5,1138.7 L1353.4,1128.3 L1354.4,1112.4 L1355.3,1089.5 L1356.3,1076.3 L1357.3,1049.3 L1358.2,1034.3 L1359.2,1008.5 L1360.1,1082.0 L1361.0,1150.0 L1361.5,1164.8 L1362.1,1177.0 L1362.8,1180.5 L1363.6,1195.1 L1364.3,1198.0 L1365.0,1204.5 L1365.7,1221.7 L1366.4,1225.0 L1367.1,1237.3 L1367.8,1223.7 L1368.5,1241.0 L1369.3,1249.7 L1370.1,1251.9 L1370.9,1230.8 L1371.7,1241.0 L1372.5,1245.7 L1373.3,1229.9 L1374.1,1226.1 L1374.9,1232.0 L1375.7,1230.2 L1376.5,1230.1 L1377.3,1241.9 L1378.1,1251.0 L1378.9,1243.8 L1379.7,1265.0 L1380.5,1246.1 L1381.3,1257.0 L1382.2,1257.1 L1383.0,1267.3 L1383.9,1251.7 L1384.7,1268.6 L1385.6,1257.0 L1386.4,1241.7 L1387.2,1239.4 L1388.0,1262.1 L1388.8,1246.0 L1389.6,1230.3 L1390.4,1234.4 L1391.2,1250.4 L1392.0,1241.0 L1392.8,1250.6 L1393.6,1247.1 L1394.4,1239.3 L1395.2,1232.0 L1396.0,1241.0 L1396.8,1250.2 L1397.6,1235.6 L1398.4,1251.0 L1399.1,1265.5 L1399.8,1274.8 L1400.5,1273.0 L1401.2,1280.4 L1402.0,1292.8 L1402.7,1290.0 L1403.5,1283.4 L1404.3,1290.9 L1405.1,1292.2 L1405.9,1297.0 L1406.7,1293.3 L1407.5,1293.7 L1408.3,1298.7 L1409.1,1297.0 L1409.9,1300.0 L1410.7,1287.5 L1411.5,1293.9 L1412.3,1289.0 L1413.1,1292.5 L1413.9,1296.2 L1414.7,1299.3 L1415.5,1297.0 L1416.2,1292.3 L1416.9,1272.5 L1417.6,1267.0 L1418.4,1260.0 L1419.2,1249.6 L1420.0,1239.5 L1420.8,1225.0 L1421.6,1221.9 L1422.4,1209.6 L1423.2,1210.9 L1424.0,1203.0 L1424.8,1198.8 L1425.6,1194.8 L1426.4,1195.1 L1427.2,1195.0 L1427.9,1189.9 L1428.6,1182.1 L1429.3,1171.0 L1430.0,1162.0 L1430.8,1159.3 L1431.5,1150.0 L1432.4,1084.2 L1433.3,1020.1 L1434.2,960.9 L1435.0,868.1 L1435.8,772.6 L1436.5,672.3" fill="none" stroke="#49718e" stroke-width="3.4" stroke-linejoin="round"/>
</g>
<rect x="128.3" y="733.8" width="1309.7" height="679.1000000000001" fill="none" stroke="#3a3a3a" stroke-width="2.3"/>
<line x1="120.80000000000001" y1="1341.0" x2="128.3" y2="1341.0" stroke="#3a3a3a" stroke-width="1.8"/>
<text x="111.2" y="1347.7" font-size="18.6" text-anchor="end" textLength="31" lengthAdjust="spacingAndGlyphs" fill="#1a1a1a">0.6</text>
<line x1="120.80000000000001" y1="1269.1" x2="128.3" y2="1269.1" stroke="#3a3a3a" stroke-width="1.8"/>
<text x="111.2" y="1275.8" font-size="18.6" text-anchor="end" textLength="31" lengthAdjust="spacingAndGlyphs" fill="#1a1a1a">1.2</text>
<line x1="120.80000000000001" y1="1197.3" x2="128.3" y2="1197.3" stroke="#3a3a3a" stroke-width="1.8"/>
<text x="111.2" y="1203.9" font-size="18.6" text-anchor="end" textLength="31" lengthAdjust="spacingAndGlyphs" fill="#1a1a1a">1.8</text>
<line x1="120.80000000000001" y1="1125.4" x2="128.3" y2="1125.4" stroke="#3a3a3a" stroke-width="1.8"/>
<text x="111.2" y="1132.0" font-size="18.6" text-anchor="end" textLength="31" lengthAdjust="spacingAndGlyphs" fill="#1a1a1a">2.4</text>
<line x1="120.80000000000001" y1="1053.5" x2="128.3" y2="1053.5" stroke="#3a3a3a" stroke-width="1.8"/>
<text x="111.2" y="1060.2" font-size="18.6" text-anchor="end" textLength="31" lengthAdjust="spacingAndGlyphs" fill="#1a1a1a">3.0</text>
<line x1="120.80000000000001" y1="981.6" x2="128.3" y2="981.6" stroke="#3a3a3a" stroke-width="1.8"/>
<text x="111.2" y="988.3" font-size="18.6" text-anchor="end" textLength="31" lengthAdjust="spacingAndGlyphs" fill="#1a1a1a">3.6</text>
<line x1="120.80000000000001" y1="909.7" x2="128.3" y2="909.7" stroke="#3a3a3a" stroke-width="1.8"/>
<text x="111.2" y="916.4" font-size="18.6" text-anchor="end" textLength="31" lengthAdjust="spacingAndGlyphs" fill="#1a1a1a">4.2</text>
<line x1="120.80000000000001" y1="837.9" x2="128.3" y2="837.9" stroke="#3a3a3a" stroke-width="1.8"/>
<text x="111.2" y="844.5" font-size="18.6" text-anchor="end" textLength="31" lengthAdjust="spacingAndGlyphs" fill="#1a1a1a">4.8</text>
<line x1="120.80000000000001" y1="766.0" x2="128.3" y2="766.0" stroke="#3a3a3a" stroke-width="1.8"/>
<text x="111.2" y="772.6" font-size="18.6" text-anchor="end" textLength="31" lengthAdjust="spacingAndGlyphs" fill="#1a1a1a">5.4</text>
<line x1="128.4" y1="1412.9" x2="128.4" y2="1419.4" stroke="#3a3a3a" stroke-width="1.8"/>
<text x="128.4" y="1438.6" font-size="18.6" text-anchor="middle" textLength="11" lengthAdjust="spacingAndGlyphs" fill="#1a1a1a">0</text>
<line x1="334.6" y1="1412.9" x2="334.6" y2="1419.4" stroke="#3a3a3a" stroke-width="1.8"/>
<text x="334.6" y="1438.6" font-size="18.6" text-anchor="middle" textLength="38" lengthAdjust="spacingAndGlyphs" fill="#1a1a1a">200</text>
<line x1="540.8" y1="1412.9" x2="540.8" y2="1419.4" stroke="#3a3a3a" stroke-width="1.8"/>
<text x="540.8" y="1438.6" font-size="18.6" text-anchor="middle" textLength="38" lengthAdjust="spacingAndGlyphs" fill="#1a1a1a">400</text>
<line x1="747.0" y1="1412.9" x2="747.0" y2="1419.4" stroke="#3a3a3a" stroke-width="1.8"/>
<text x="747.0" y="1438.6" font-size="18.6" text-anchor="middle" textLength="38" lengthAdjust="spacingAndGlyphs" fill="#1a1a1a">600</text>
<line x1="953.2" y1="1412.9" x2="953.2" y2="1419.4" stroke="#3a3a3a" stroke-width="1.8"/>
<text x="953.2" y="1438.6" font-size="18.6" text-anchor="middle" textLength="38" lengthAdjust="spacingAndGlyphs" fill="#1a1a1a">800</text>
<line x1="1159.4" y1="1412.9" x2="1159.4" y2="1419.4" stroke="#3a3a3a" stroke-width="1.8"/>
<text x="1159.4" y="1438.6" font-size="18.6" text-anchor="middle" textLength="51.5" lengthAdjust="spacingAndGlyphs" fill="#1a1a1a">1000</text>
<line x1="1365.6" y1="1412.9" x2="1365.6" y2="1419.4" stroke="#3a3a3a" stroke-width="1.8"/>
<text x="1365.6" y="1438.6" font-size="18.6" text-anchor="middle" textLength="51.5" lengthAdjust="spacingAndGlyphs" fill="#1a1a1a">1200</text>
<text x="782.7" y="1471.1" font-size="28.4" text-anchor="middle" textLength="240" lengthAdjust="spacingAndGlyphs" fill="#111">Residue Index</text>
<text transform="translate(62.2,1073) rotate(-90)" font-size="35.3" text-anchor="middle" textLength="123.5" lengthAdjust="spacingAndGlyphs" fill="#111">RMSF (<tspan font-style="italic">Å</tspan>)</text>
<text x="17" y="740.5" font-family="Liberation Serif" font-weight="bold" font-size="49" textLength="62.5" lengthAdjust="spacingAndGlyphs" fill="#000">(B)</text>
<clipPath id="cC"><rect x="131.3" y="1516.3" width="1321.7" height="677.8"/></clipPath>
<g clip-path="url(#cC)">
<rect x="151.0" y="1516.3" width="6.0" height="677.8" fill="#d9f1f6"/>
<rect x="162.0" y="1516.3" width="6.0" height="677.8" fill="#d9f1f6"/>
<rect x="201.0" y="1516.3" width="6.0" height="677.8" fill="#d9f1f6"/>
<rect x="212.0" y="1516.3" width="3.0" height="677.8" fill="#d9f1f6"/>
<rect x="232.6" y="1516.3" width="4.4" height="677.8" fill="#d9f1f6"/>
<rect x="327.0" y="1516.3" width="9.0" height="677.8" fill="#d9f1f6"/>
<rect x="341.0" y="1516.3" width="10.6" height="677.8" fill="#d9f1f6"/>
<rect x="389.6" y="1516.3" width="5.4" height="677.8" fill="#d9f1f6"/>
<rect x="425.6" y="1516.3" width="5.4" height="677.8" fill="#d9f1f6"/>
<rect x="467.6" y="1516.3" width="1.8" height="677.8" fill="#d9f1f6"/>
<rect x="476.0" y="1516.3" width="6.0" height="677.8" fill="#d9f1f6"/>
<rect x="498.0" y="1516.3" width="9.0" height="677.8" fill="#d9f1f6"/>
<rect x="516.0" y="1516.3" width="2.0" height="677.8" fill="#d9f1f6"/>
<rect x="531.0" y="1516.3" width="3.0" height="677.8" fill="#d9f1f6"/>
<rect x="546.6" y="1516.3" width="12.0" height="677.8" fill="#d9f1f6"/>
<rect x="564.0" y="1516.3" width="4.0" height="677.8" fill="#d9f1f6"/>
<rect x="570.0" y="1516.3" width="8.0" height="677.8" fill="#d9f1f6"/>
<rect x="583.0" y="1516.3" width="2.0" height="677.8" fill="#d9f1f6"/>
<rect x="587.4" y="1516.3" width="4.0" height="677.8" fill="#d9f1f6"/>
<rect x="622.6" y="1516.3" width="3.4" height="677.8" fill="#d9f1f6"/>
<rect x="633.0" y="1516.3" width="2.0" height="677.8" fill="#d9f1f6"/>
<rect x="883.3" y="1516.3" width="2.1" height="677.8" fill="#d9f1f6"/>
<rect x="893.1" y="1516.3" width="2.1" height="677.8" fill="#d9f1f6"/>
<rect x="914.1" y="1516.3" width="4.2" height="677.8" fill="#d9f1f6"/>
<rect x="930.2" y="1516.3" width="8.4" height="677.8" fill="#d9f1f6"/>
<rect x="973.6" y="1516.3" width="5.6" height="677.8" fill="#d9f1f6"/>
<rect x="981.3" y="1516.3" width="4.9" height="677.8" fill="#d9f1f6"/>
<rect x="990.4" y="1516.3" width="3.5" height="677.8" fill="#d9f1f6"/>
<rect x="1059.7" y="1516.3" width="4.9" height="677.8" fill="#d9f1f6"/>
<rect x="1068.8" y="1516.3" width="4.2" height="677.8" fill="#d9f1f6"/>
<rect x="1231.0" y="1516.3" width="5.0" height="677.8" fill="#d9f1f6"/>
<rect x="1245.0" y="1516.3" width="6.0" height="677.8" fill="#d9f1f6"/>
<rect x="1254.6" y="1516.3" width="4.4" height="677.8" fill="#d9f1f6"/>
<rect x="173.0" y="1516.3" width="12.0" height="677.8" fill="#fbe0db"/>
<rect x="242.0" y="1516.3" width="14.0" height="677.8" fill="#fbe0db"/>
<rect x="272.0" y="1516.3" width="18.0" height="677.8" fill="#fbe0db"/>
<rect x="300.0" y="1516.3" width="2.4" height="677.8" fill="#fbe0db"/>
<rect x="358.4" y="1516.3" width="5.2" height="677.8" fill="#fbe0db"/>
<rect x="411.6" y="1516.3" width="9.4" height="677.8" fill="#fbe0db"/>
<rect x="432.0" y="1516.3" width="4.0" height="677.8" fill="#fbe0db"/>
<rect x="639.4" y="1516.3" width="2.6" height="677.8" fill="#fbe0db"/>
<rect x="650.6" y="1516.3" width="8.4" height="677.8" fill="#fbe0db"/>
<rect x="669.4" y="1516.3" width="7.2" height="677.8" fill="#fbe0db"/>
<rect x="689.4" y="1516.3" width="4.6" height="677.8" fill="#fbe0db"/>
<rect x="702.0" y="1516.3" width="12.0" height="677.8" fill="#fbe0db"/>
<rect x="738.0" y="1516.3" width="12.0" height="677.8" fill="#fbe0db"/>
<rect x="752.4" y="1516.3" width="10.2" height="677.8" fill="#fbe0db"/>
<rect x="775.6" y="1516.3" width="11.0" height="677.8" fill="#fbe0db"/>
<rect x="790.0" y="1516.3" width="12.0" height="677.8" fill="#fbe0db"/>
<rect x="810.6" y="1516.3" width="11.8" height="677.8" fill="#fbe0db"/>
<rect x="828.0" y="1516.3" width="24.0" height="677.8" fill="#fbe0db"/>
<rect x="859.0" y="1516.3" width="13.0" height="677.8" fill="#fbe0db"/>
<rect x="876.0" y="1516.3" width="4.0" height="677.8" fill="#fbe0db"/>
<rect x="942.1" y="1516.3" width="20.3" height="677.8" fill="#fbe0db"/>
<rect x="993.9" y="1516.3" width="4.2" height="677.8" fill="#fbe0db"/>
<rect x="1014.0" y="1516.3" width="8.0" height="677.8" fill="#fbe0db"/>
<rect x="1027.4" y="1516.3" width="23.2" height="677.8" fill="#fbe0db"/>
<rect x="1099.4" y="1516.3" width="7.2" height="677.8" fill="#fbe0db"/>
<rect x="1118.0" y="1516.3" width="17.0" height="677.8" fill="#fbe0db"/>
<rect x="1137.4" y="1516.3" width="8.6" height="677.8" fill="#fbe0db"/>
<rect x="1165.4" y="1516.3" width="4.0" height="677.8" fill="#fbe0db"/>
<rect x="1176.6" y="1516.3" width="15.4" height="677.8" fill="#fbe0db"/>
<rect x="1216.0" y="1516.3" width="7.0" height="677.8" fill="#fbe0db"/>
<rect x="1300.4" y="1516.3" width="72.6" height="677.8" fill="#fbe0db"/>
<rect x="1375.7" y="1516.3" width="71.9" height="677.8" fill="#fbe0db"/>
<path d="M901.0,2194.1 L901.0,2071.3 L902.0,2078.3 L903.0,2056.3 L904.0,2030.3 L905.0,2004.3 L906.0,1977.6 L907.0,1950.9 L908.0,1924.3 L909.0,1935.6 L910.0,1975.6 L911.0,2013.9 L912.0,2047.9 L913.0,2081.9 L914.0,2103.3 L915.0,2106.3 L915.6,2108.1 L915.6,2194.1Z M931.0,2194.1 L931.0,2108.6 L932.0,2110.3 L933.0,2105.3 L934.0,2098.3 L935.0,2091.3 L936.0,2074.5 L937.0,2056.5 L938.0,2039.5 L939.0,2057.5 L940.0,2075.5 L941.0,2091.7 L941.0,2194.1Z M943.0,2194.1 L943.0,2105.7 L944.0,2111.3 L945.0,2113.3 L946.0,2115.3 L947.0,2117.3 L947.0,2194.1Z M970.4,2194.1 L970.4,2113.6 L971.4,2113.6 L972.4,2109.6 L973.4,2103.0 L974.4,2096.3 L975.4,2090.2 L975.6,2089.7 L975.6,2194.1Z M983.0,2194.1 L983.0,2105.6 L984.0,2107.2 L985.0,2106.4 L986.0,2105.6 L987.0,2104.6 L988.0,2103.3 L989.0,2101.9 L990.0,2100.6 L991.0,2099.3 L992.0,2094.0 L993.0,2088.7 L994.0,2083.4 L995.0,2078.0 L996.0,2059.6 L997.0,2034.6 L997.0,2194.1Z M998.0,2194.1 L998.0,2009.6 L999.0,1959.6 L1000.0,1903.3 L1001.0,1850.2 L1001.6,1820.2 L1001.6,2194.1Z M1059.4,2194.1 L1059.4,2092.0 L1060.4,2104.0 L1061.4,2115.0 L1062.4,2108.4 L1063.4,2101.7 L1063.4,2194.1Z M1068.0,2194.1 L1068.0,2114.9 L1069.0,2122.2 L1070.0,2119.3 L1071.0,2112.6 L1072.0,2106.0 L1073.0,2099.3 L1074.0,2096.3 L1075.0,2100.4 L1075.4,2102.1 L1075.4,2194.1Z" fill="#008000"/>
<path d="M131.5,1945.3 L132.2,1981.7 L132.8,2025.8 L133.8,2020.1 L134.7,2020.5 L135.6,2047.2 L136.6,2066.1 L137.3,2072.0 L138.0,2088.3 L138.7,2095.6 L139.4,2078.2 L140.2,2068.9 L140.9,2050.0 L141.8,2067.9 L142.8,2079.5 L143.7,2070.4 L144.6,2066.1 L145.4,2070.8 L146.2,2084.9 L147.2,2074.4 L148.1,2055.4 L149.0,2060.5 L149.9,2066.9 L150.8,2076.8 L151.7,2070.5 L152.6,2076.7 L153.5,2071.5 L154.4,2064.9 L155.3,2053.1 L156.2,2039.3 L157.1,2039.7 L158.0,2025.6 L158.9,2025.8 L159.8,2032.9 L160.6,2044.3 L161.5,2050.0 L162.3,2055.5 L163.2,2055.4 L164.0,2057.0 L164.8,2058.1 L165.6,2055.4 L166.4,2061.6 L167.2,2055.0 L168.0,2057.6 L168.8,2068.8 L169.6,2066.1 L170.5,2061.0 L171.4,2060.3 L172.3,2063.4 L173.1,2063.4 L173.9,2054.6 L174.7,2056.8 L175.5,2049.5 L176.3,2050.0 L177.1,2046.6 L177.9,2049.0 L178.7,2040.9 L179.5,2036.2 L180.3,2036.6 L181.2,2034.0 L182.1,2027.6 L183.0,2017.8 L183.9,2007.8 L184.8,2001.8 L185.7,1996.3 L186.6,1989.7 L187.5,1995.4 L188.4,1991.0 L189.2,1988.9 L190.1,1978.0 L191.0,1981.7 L191.9,1974.9 L192.8,1977.3 L193.7,1992.2 L194.5,1996.3 L195.4,2003.9 L196.3,1999.5 L197.2,2007.1 L198.1,2021.1 L199.0,2023.7 L199.9,2039.3 L200.9,2064.3 L201.8,2079.5 L202.7,2092.1 L203.6,2093.0 L204.5,2106.3 L205.4,2107.0 L206.3,2105.1 L207.2,2106.3 L208.0,2106.5 L208.8,2103.8 L209.6,2101.0 L210.4,2089.6 L211.2,2090.2 L212.0,2087.3 L212.8,2098.2 L213.6,2100.1 L214.4,2098.3 L215.1,2095.0 L215.8,2084.8 L216.6,2082.2 L217.4,2076.0 L218.3,2063.5 L219.2,2050.0 L220.1,2064.1 L221.0,2070.1 L221.9,2087.6 L222.8,2091.0 L223.7,2096.0 L224.6,2106.3 L225.5,2109.7 L226.4,2104.0 L227.3,2109.0 L228.1,2104.7 L228.9,2108.5 L229.7,2097.7 L230.5,2096.9 L231.3,2095.6 L232.2,2085.5 L233.1,2087.5 L234.0,2079.5 L234.9,2069.6 L235.8,2058.8 L236.7,2052.7 L237.5,2044.0 L238.3,2049.1 L239.1,2036.1 L239.9,2040.4 L240.7,2032.5 L241.6,2043.7 L242.5,2052.9 L243.4,2058.0 L244.3,2069.7 L245.2,2076.9 L246.1,2084.9 L246.9,2092.2 L247.7,2092.1 L248.5,2104.7 L249.3,2105.4 L250.1,2111.7 L251.0,2111.6 L251.8,2106.0 L252.7,2093.0 L253.6,2092.9 L254.4,2089.3 L255.2,2081.1 L256.0,2072.1 L256.8,2071.5 L257.6,2069.3 L258.4,2056.2 L259.2,2051.7 L260.0,2050.3 L260.8,2041.9 L261.8,2037.0 L262.7,2039.3 L263.6,2036.8 L264.5,2029.2 L265.4,2028.5 L266.1,2046.0 L266.8,2058.1 L267.5,2066.1 L268.4,2071.2 L269.3,2080.4 L270.2,2090.2 L271.0,2089.8 L271.8,2098.3 L272.6,2090.5 L273.4,2093.2 L274.2,2098.3 L275.1,2097.4 L276.0,2096.8 L276.9,2093.4 L277.7,2090.2 L278.5,2098.0 L279.3,2092.3 L280.1,2099.2 L281.0,2103.7 L281.8,2100.2 L282.6,2094.7 L283.4,2093.6 L284.2,2097.9 L285.0,2092.9 L285.8,2090.2 L286.7,2088.9 L287.6,2083.8 L288.5,2076.8 L289.4,2067.2 L290.3,2069.2 L291.3,2058.5 L292.2,2058.0 L293.1,2066.5 L294.0,2065.0 L294.8,2074.0 L295.7,2074.1 L296.6,2083.5 L297.5,2080.9 L298.4,2090.2 L299.3,2099.4 L300.2,2110.7 L301.1,2114.4 L301.9,2114.4 L302.7,2111.3 L303.5,2102.4 L304.3,2105.7 L305.1,2098.3 L305.9,2092.2 L306.7,2091.8 L307.5,2088.6 L308.3,2096.8 L309.1,2090.2 L309.9,2082.3 L310.7,2066.1 L311.5,2065.3 L312.3,2055.3 L313.2,2041.9 L314.0,2041.0 L314.9,2045.6 L315.8,2052.7 L316.7,2039.3 L317.6,2031.1 L318.5,2025.8 L319.2,2012.8 L319.9,2010.1 L320.7,1999.0 L321.6,1994.3 L322.5,1994.6 L323.3,1993.6 L324.2,1994.0 L325.1,2006.4 L326.0,2007.1 L326.9,2029.4 L327.8,2051.9 L328.7,2076.8 L329.5,2065.9 L330.3,2061.0 L331.1,2054.2 L331.9,2052.7 L332.6,2029.8 L333.4,2013.5 L334.1,1999.0 L335.0,1947.8 L336.0,1891.7 L336.8,1871.7 L337.6,1842.0 L338.4,1872.4 L339.2,1896.5 L340.0,1918.5 L340.7,1949.9 L341.4,1968.9 L342.1,1999.0 L343.0,2018.9 L343.9,2039.5 L344.8,2052.7 L345.6,2054.7 L346.4,2065.0 L347.2,2068.6 L348.0,2068.8 L348.8,2065.8 L349.6,2064.7 L350.4,2070.4 L351.3,2068.6 L352.1,2063.4 L352.9,2071.3 L353.8,2076.2 L354.7,2076.2 L355.5,2079.5 L356.4,2081.3 L357.2,2072.1 L358.0,2073.9 L358.8,2068.8 L359.7,2058.9 L360.6,2036.9 L361.5,2025.8 L362.3,2003.2 L363.2,1968.7 L364.1,1945.3 L365.1,1847.9 L366.0,1757.5 L366.7,1654.5 L367.4,1565.1 L368.2,1462.3 L369.1,1462.3 L370.1,1462.3 L371.0,1462.3 L372.0,1462.3 L373.0,1462.3 L373.9,1462.3 L374.9,1462.3 L375.8,1462.3 L376.8,1462.3 L377.7,1462.3 L378.7,1462.3 L379.7,1462.3 L380.6,1462.3 L381.6,1462.3 L382.2,1552.8 L382.9,1650.2 L383.8,1699.1 L384.7,1752.6 L385.6,1811.2 L386.3,1867.3 L387.0,1914.1 L387.7,1972.2 L388.7,2018.3 L389.6,2068.8 L390.5,2073.0 L391.4,2088.7 L392.3,2095.6 L393.2,2096.4 L394.1,2104.3 L395.0,2106.3 L395.8,2103.0 L396.6,2107.7 L397.4,2102.5 L398.2,2103.7 L399.0,2098.3 L399.9,2098.7 L400.8,2101.2 L401.7,2098.3 L402.6,2096.4 L403.5,2083.5 L404.4,2082.2 L405.2,2088.7 L406.0,2090.6 L406.8,2093.6 L407.6,2095.6 L408.5,2101.3 L409.3,2105.2 L410.2,2111.8 L411.1,2111.7 L411.9,2113.9 L412.7,2111.5 L413.5,2106.9 L414.3,2107.2 L415.1,2101.0 L416.0,2085.3 L416.9,2078.9 L417.8,2066.1 L418.7,2062.2 L419.6,2046.0 L420.5,2041.9 L421.4,2047.9 L422.3,2059.8 L423.2,2066.1 L424.1,2065.8 L425.0,2078.8 L425.9,2079.5 L426.6,2080.6 L427.3,2092.9 L428.0,2092.9 L428.8,2074.3 L429.6,2054.6 L430.4,2041.9 L431.3,2041.4 L432.2,2037.4 L433.1,2031.2 L433.9,2019.8 L434.7,2014.3 L435.5,2013.6 L436.3,2004.4 L437.2,2023.4 L438.1,2036.3 L439.0,2047.3 L439.8,2039.0 L440.7,2034.6 L441.6,2031.2 L442.4,2038.7 L443.1,2052.3 L443.8,2066.1 L444.5,2028.8 L445.1,1999.0 L445.8,1963.3 L446.5,1918.5 L447.1,1847.6 L447.8,1784.3 L448.7,1739.4 L449.7,1703.8 L450.4,1680.5 L451.1,1660.7 L451.8,1644.8 L452.5,1624.0 L453.3,1617.0 L454.0,1596.5 L454.9,1567.8 L455.9,1548.2 L456.8,1550.2 L457.7,1542.8 L458.5,1577.8 L459.3,1607.2 L460.3,1579.0 L461.2,1542.8 L462.2,1601.2 L463.1,1650.2 L463.9,1745.0 L464.7,1838.0 L465.4,1914.2 L466.1,1999.0 L467.0,2024.2 L467.9,2052.7 L468.6,2061.7 L469.4,2079.9 L470.1,2090.2 L471.0,2081.2 L471.9,2075.8 L472.8,2066.1 L473.7,2064.3 L474.6,2052.7 L475.5,2062.5 L476.4,2072.0 L477.3,2087.6 L478.2,2093.0 L479.1,2096.5 L480.0,2106.3 L480.8,2107.3 L481.6,2103.8 L482.4,2102.5 L483.2,2094.2 L484.0,2092.9 L484.8,2083.9 L485.6,2088.3 L486.4,2073.6 L487.3,2070.3 L488.1,2068.8 L489.0,2055.4 L489.8,2044.7 L490.7,2039.3 L491.6,2033.5 L492.5,2020.7 L493.4,2017.8 L494.3,2029.4 L495.2,2030.2 L496.1,2041.9 L497.0,2055.0 L497.9,2066.2 L498.7,2077.5 L499.6,2084.9 L500.4,2096.2 L501.2,2105.7 L502.0,2112.0 L502.8,2117.1 L503.7,2118.6 L504.6,2117.4 L505.5,2111.7 L506.3,2100.7 L507.1,2097.1 L507.9,2095.5 L508.7,2087.6 L509.6,2092.5 L510.5,2087.9 L511.3,2087.8 L512.2,2092.9 L513.1,2087.1 L514.0,2087.7 L514.9,2087.6 L515.8,2086.9 L516.7,2091.7 L517.6,2095.6 L518.4,2085.7 L519.3,2085.4 L520.2,2073.0 L521.1,2068.8 L521.9,2061.6 L522.7,2056.0 L523.5,2054.2 L524.3,2052.7 L525.1,2061.5 L525.9,2060.5 L526.7,2065.8 L527.5,2074.1 L528.4,2073.6 L529.2,2083.5 L530.1,2088.6 L531.0,2087.6 L531.8,2089.4 L532.6,2085.2 L533.4,2086.7 L534.2,2083.9 L535.0,2079.5 L535.8,2078.6 L536.6,2082.1 L537.4,2087.5 L538.2,2091.7 L539.0,2095.6 L539.8,2095.4 L540.7,2098.0 L541.5,2107.5 L542.3,2111.4 L543.1,2111.7 L544.0,2117.8 L544.9,2111.3 L545.8,2117.2 L546.6,2119.2 L547.5,2120.1 L548.4,2119.8 L549.2,2118.1 L550.0,2111.1 L550.8,2108.2 L551.7,2103.1 L552.5,2092.9 L553.4,2084.0 L554.2,2068.5 L555.1,2052.7 L555.9,2019.8 L556.6,1977.6 L557.3,1945.3 L558.2,1872.4 L559.2,1789.7 L560.1,1803.8 L561.0,1817.4 L561.9,1838.0 L562.6,1887.3 L563.3,1942.5 L564.0,1999.0 L564.8,2014.4 L565.6,2035.9 L566.4,2064.4 L567.2,2079.5 L568.0,2083.5 L568.8,2094.7 L569.6,2092.7 L570.4,2102.6 L571.2,2106.3 L572.0,2102.9 L572.9,2106.0 L573.7,2104.6 L574.5,2106.8 L575.3,2111.7 L576.1,2109.5 L576.9,2115.5 L577.7,2105.5 L578.5,2113.1 L579.3,2109.0 L580.1,2111.8 L580.9,2102.4 L581.7,2103.2 L582.5,2098.7 L583.3,2101.0 L584.1,2095.5 L584.9,2096.0 L585.7,2094.5 L586.5,2084.1 L587.3,2084.9 L588.1,2092.3 L589.0,2097.9 L589.8,2102.3 L590.6,2106.6 L591.4,2106.3 L592.2,2101.9 L593.0,2097.6 L593.8,2095.4 L594.6,2092.1 L595.4,2092.9 L596.3,2070.7 L597.1,2061.3 L598.0,2036.7 L598.9,2023.2 L599.8,2035.0 L600.7,2048.9 L601.6,2066.1 L602.5,2084.6 L603.4,2098.8 L604.2,2111.7 L605.1,2102.7 L605.9,2098.0 L606.7,2102.4 L607.5,2092.9 L608.3,2094.9 L609.1,2086.0 L609.9,2093.2 L610.7,2092.1 L611.5,2087.6 L612.4,2082.2 L613.3,2080.0 L614.2,2079.5 L615.0,2067.3 L615.9,2054.0 L616.8,2041.3 L617.7,2033.9 L618.6,2042.4 L619.5,2052.7 L620.3,2066.1 L621.2,2078.7 L622.1,2093.6 L623.0,2101.0 L624.0,2094.1 L624.9,2086.3 L625.8,2078.1 L626.8,2066.1 L627.7,2054.4 L628.5,2051.6 L629.4,2041.8 L630.3,2027.2 L631.2,2042.9 L632.1,2056.6 L633.0,2066.1 L633.9,2073.8 L634.7,2090.2 L635.6,2098.3 L636.5,2086.1 L637.4,2072.4 L638.3,2052.7 L639.2,2052.5 L640.1,2043.1 L641.0,2039.3 L641.9,2040.1 L642.8,2043.3 L643.7,2052.7 L644.6,1996.7 L645.6,1945.3 L646.5,1904.5 L647.4,1862.6 L648.3,1813.9 L649.1,1889.5 L649.9,1972.2 L650.8,2005.1 L651.7,2039.3 L652.6,2057.4 L653.5,2062.2 L654.4,2079.5 L655.2,2081.5 L656.0,2092.7 L656.8,2098.8 L657.6,2103.9 L658.5,2106.3 L659.3,2103.6 L660.1,2102.6 L660.9,2103.1 L661.7,2112.0 L662.5,2109.0 L663.3,2111.7 L664.1,2107.5 L664.9,2105.1 L665.7,2100.0 L666.5,2103.7 L667.3,2107.6 L668.1,2107.8 L668.9,2102.6 L669.7,2101.7 L670.5,2106.3 L671.3,2102.1 L672.1,2107.5 L672.9,2107.6 L673.7,2104.7 L674.6,2101.0 L675.4,2092.9 L676.2,2088.8 L677.0,2091.6 L677.8,2079.2 L678.6,2079.5 L679.4,2079.3 L680.2,2073.9 L681.0,2080.7 L681.8,2076.8 L682.6,2074.1 L683.5,2069.3 L684.4,2075.3 L685.3,2068.8 L686.2,2079.0 L687.1,2087.0 L688.0,2092.9 L688.8,2102.6 L689.6,2105.4 L690.4,2109.7 L691.2,2107.4 L692.0,2117.1 L692.8,2116.1 L693.6,2108.4 L694.4,2105.1 L695.2,2094.2 L696.0,2092.9 L696.8,2087.6 L697.6,2086.5 L698.4,2085.7 L699.2,2083.8 L700.0,2087.6 L700.8,2083.2 L701.7,2088.8 L702.5,2088.0 L703.3,2081.2 L704.1,2082.2 L704.9,2086.5 L705.7,2079.2 L706.5,2076.4 L707.3,2084.1 L708.1,2079.5 L709.0,2076.7 L709.9,2075.6 L710.8,2076.8 L711.7,2067.8 L712.6,2059.6 L713.5,2058.0 L714.4,2058.9 L715.2,2063.3 L716.1,2071.5 L716.9,2078.0 L717.8,2078.9 L718.6,2075.2 L719.4,2078.3 L720.2,2082.2 L721.1,2083.4 L722.1,2086.0 L723.1,2075.7 L724.0,2075.2 L725.0,2079.5 L725.7,2090.3 L726.4,2109.8 L727.2,2126.9 L728.0,2127.4 L728.9,2128.0 L729.8,2127.1 L730.6,2126.1 L731.5,2121.2 L732.4,2120.0 L733.4,2114.9 L734.3,2106.8 L735.3,2113.3 L736.3,2106.3 L737.2,2112.6 L738.1,2116.8 L738.9,2108.7 L739.8,2108.0 L740.6,2108.5 L741.5,2109.7 L742.4,2105.3 L743.2,2105.7 L744.1,2104.3 L745.0,2100.6 L745.8,2103.9 L746.6,2101.8 L747.3,2094.0 L748.1,2086.7 L749.0,2094.6 L749.8,2093.9 L750.7,2105.8 L751.5,2106.8 L752.4,2113.3 L753.3,2116.0 L754.1,2116.4 L755.0,2118.6 L755.9,2118.3 L756.7,2115.0 L757.6,2115.2 L758.4,2124.3 L759.3,2117.9 L760.2,2121.2 L761.1,2123.6 L762.1,2122.1 L763.0,2113.3 L764.0,2122.3 L764.9,2115.1 L765.9,2115.4 L766.7,2116.7 L767.6,2111.9 L768.5,2111.3 L769.3,2102.8 L770.2,2102.3 L771.1,2101.1 L771.9,2107.9 L772.8,2109.7 L773.6,2111.8 L774.5,2109.7 L775.4,2112.0 L776.2,2116.7 L777.1,2118.2 L777.9,2112.7 L778.8,2118.3 L779.8,2116.4 L780.7,2117.2 L781.7,2119.3 L782.6,2119.8 L783.6,2125.7 L784.5,2124.0 L785.5,2122.2 L786.4,2125.8 L787.4,2125.7 L788.4,2116.9 L789.3,2115.7 L790.3,2118.3 L791.1,2121.8 L792.0,2115.9 L792.8,2125.4 L793.7,2118.3 L794.6,2124.0 L795.4,2118.4 L796.3,2122.5 L797.2,2121.7 L798.0,2111.4 L798.9,2112.6 L799.8,2102.3 L800.7,2102.0 L801.7,2094.3 L802.6,2083.9 L803.6,2070.3 L804.5,2063.5 L805.5,2055.2 L806.4,2046.9 L807.4,2033.2 L808.3,2026.5 L809.3,2046.7 L810.2,2054.5 L811.2,2075.3 L812.1,2088.6 L812.9,2089.2 L813.8,2099.2 L814.6,2112.6 L815.5,2112.6 L816.4,2110.1 L817.2,2112.2 L818.1,2115.0 L818.9,2118.3 L819.9,2123.5 L820.8,2122.4 L821.7,2124.5 L822.7,2121.2 L823.6,2081.6 L824.6,2049.5 L825.5,2009.3 L826.2,2039.9 L826.9,2082.1 L827.6,2112.6 L828.4,2113.6 L829.3,2105.8 L830.1,2112.0 L831.0,2102.2 L831.9,2103.9 L832.8,2102.3 L833.8,2100.1 L834.7,2100.6 L835.7,2110.4 L836.6,2108.5 L837.6,2106.8 L838.5,2103.4 L839.3,2102.6 L840.2,2102.7 L841.0,2107.6 L841.9,2103.9 L842.8,2098.4 L843.6,2100.8 L844.5,2099.6 L845.3,2090.1 L846.2,2089.6 L847.1,2083.1 L847.9,2069.9 L848.8,2061.5 L849.6,2059.1 L850.5,2046.6 L851.4,2036.7 L852.4,2039.0 L853.3,2033.2 L854.2,2023.6 L855.0,2018.4 L855.8,2005.0 L856.5,1997.8 L857.4,2007.1 L858.2,2006.7 L859.1,2019.2 L860.0,2020.8 L860.8,2029.1 L861.7,2046.7 L862.5,2059.5 L863.4,2066.7 L864.3,2064.2 L865.1,2074.8 L866.0,2068.0 L866.8,2070.6 L867.7,2075.3 L868.7,2075.4 L869.6,2088.8 L870.6,2089.6 L871.5,2079.2 L872.5,2081.2 L873.4,2072.4 L874.4,2070.5 L875.4,2072.3 L876.3,2078.1 L877.2,2086.0 L878.0,2089.8 L878.9,2094.8 L879.7,2099.0 L880.6,2098.2 L881.6,2103.8 L882.5,2104.3 L883.5,2106.3 L884.4,2101.2 L885.4,2101.6 L886.3,2106.8 L887.2,2108.7 L888.1,2105.9 L888.9,2104.7 L889.8,2099.7 L890.6,2095.3 L891.5,2099.3 L892.4,2100.2 L893.2,2098.7 L894.1,2093.7 L895.0,2098.2 L895.8,2088.1 L896.7,2080.4 L897.5,2069.3 L898.4,2069.2 L899.3,2058.1 L900.2,2061.3 L901.2,2073.8 L902.1,2078.1 L903.1,2055.0 L904.0,2025.0 L905.0,2003.6 L905.8,1982.5 L906.7,1962.6 L907.6,1932.2 L908.4,1911.8 L909.2,1938.3 L910.0,1968.0 L910.7,2003.6 L911.7,2040.4 L912.6,2067.0 L913.6,2101.1 L914.5,2099.6 L915.5,2101.9 L916.5,2109.7 L917.4,2112.7 L918.4,2110.4 L919.3,2103.9 L920.3,2092.4 L921.2,2087.4 L922.2,2075.3 L923.2,2077.0 L924.1,2089.1 L925.1,2089.6 L926.0,2098.1 L926.9,2099.3 L927.9,2104.2 L928.8,2103.9 L929.7,2107.3 L930.5,2104.8 L931.4,2106.0 L932.2,2109.7 L933.2,2099.4 L934.1,2091.7 L935.1,2089.6 L936.1,2074.9 L937.0,2057.4 L938.0,2038.0 L938.9,2052.9 L939.9,2068.9 L940.8,2089.6 L941.8,2098.2 L942.8,2107.1 L943.7,2109.7 L944.6,2108.9 L945.4,2109.2 L946.3,2113.3 L947.1,2112.6 L948.0,2118.3 L949.0,2123.0 L949.9,2121.8 L950.9,2118.4 L951.8,2122.3 L952.8,2117.8 L953.7,2121.2 L954.6,2121.1 L955.5,2113.6 L956.3,2104.3 L957.2,2107.6 L958.0,2098.2 L959.0,2093.6 L960.0,2084.4 L960.9,2072.4 L961.9,2075.2 L962.8,2081.9 L963.8,2089.6 L964.6,2095.7 L965.5,2103.7 L966.4,2099.7 L967.2,2105.3 L968.1,2112.6 L969.0,2109.4 L969.9,2114.9 L970.9,2116.3 L971.8,2112.6 L972.7,2110.8 L973.5,2105.1 L974.4,2091.7 L975.3,2089.6 L976.1,2091.3 L977.0,2082.9 L977.8,2086.3 L978.7,2077.8 L979.6,2078.1 L980.5,2082.0 L981.4,2089.7 L982.4,2097.3 L983.3,2106.8 L984.1,2107.8 L985.0,2106.7 L985.9,2100.4 L986.7,2103.9 L987.6,2103.5 L988.4,2098.2 L989.3,2099.3 L990.2,2104.1 L991.0,2098.2 L991.9,2090.7 L992.8,2091.8 L993.6,2088.0 L994.5,2084.3 L995.3,2075.3 L996.3,2055.3 L997.2,2024.3 L998.2,2003.6 L999.0,1958.9 L999.7,1915.1 L1000.5,1874.5 L1001.2,1836.7 L1001.8,1803.6 L1002.5,1774.1 L1003.2,1719.0 L1003.9,1673.7 L1004.7,1605.6 L1005.5,1526.8 L1006.2,1458.6 L1006.8,1458.6 L1007.4,1458.6 L1008.2,1716.8 L1009.0,1806.9 L1009.7,1888.8 L1010.6,1923.8 L1011.6,1969.1 L1012.5,2003.6 L1013.5,2026.0 L1014.5,2045.7 L1015.4,2060.9 L1016.4,2053.3 L1017.3,2055.7 L1018.3,2046.6 L1019.1,2043.9 L1020.0,2032.2 L1020.8,2037.5 L1021.6,2034.1 L1022.3,2041.1 L1023.3,2027.4 L1024.3,2008.2 L1025.3,1985.3 L1026.0,2003.9 L1026.6,2009.7 L1027.3,2029.3 L1028.1,2045.0 L1028.9,2065.3 L1029.7,2088.0 L1030.5,2094.8 L1031.4,2093.8 L1032.3,2106.4 L1033.2,2112.9 L1034.1,2114.4 L1035.0,2118.4 L1036.0,2113.3 L1037.0,2120.3 L1038.0,2120.9 L1039.0,2117.4 L1039.9,2120.3 L1040.9,2110.0 L1041.8,2104.5 L1042.8,2098.8 L1043.7,2096.8 L1044.4,2109.1 L1045.1,2117.9 L1045.8,2123.2 L1046.7,2125.9 L1047.6,2124.0 L1048.4,2114.9 L1049.3,2114.7 L1050.2,2117.3 L1051.1,2107.1 L1052.0,2103.6 L1052.8,2099.7 L1053.7,2091.3 L1054.6,2090.9 L1055.6,2091.7 L1056.5,2080.3 L1057.5,2087.1 L1058.4,2079.2 L1059.4,2088.6 L1060.4,2106.2 L1061.3,2114.4 L1062.2,2112.1 L1063.1,2100.1 L1064.0,2093.0 L1064.9,2090.9 L1065.7,2100.2 L1066.6,2106.2 L1067.5,2107.6 L1068.4,2114.5 L1069.3,2123.2 L1070.1,2119.8 L1071.0,2106.8 L1071.9,2108.0 L1072.8,2096.8 L1073.7,2093.9 L1074.5,2101.9 L1075.4,2097.5 L1076.3,2105.1 L1077.2,2108.5 L1078.1,2094.0 L1079.1,2065.6 L1080.0,2055.9 L1081.0,2032.3 L1082.0,2017.1 L1083.0,2013.0 L1083.9,2000.0 L1084.9,2000.7 L1085.8,2002.6 L1086.8,2007.6 L1087.7,2014.7 L1088.7,2025.6 L1089.7,2036.8 L1090.7,2044.0 L1091.6,2063.2 L1092.4,2070.0 L1093.3,2085.2 L1094.2,2102.7 L1095.2,2089.3 L1096.2,2083.4 L1097.1,2067.5 L1098.1,2061.0 L1099.1,2055.7 L1100.1,2055.7 L1101.0,2058.9 L1102.0,2066.5 L1103.0,2067.5 L1103.9,2054.5 L1104.8,2044.7 L1105.6,2039.7 L1106.5,2022.0 L1107.4,2014.7 L1108.1,1993.0 L1108.8,1960.3 L1109.5,1938.4 L1110.3,1947.8 L1111.1,1943.7 L1111.9,1947.2 L1112.7,1956.0 L1113.4,1950.8 L1114.0,1939.1 L1114.7,1926.7 L1115.7,1946.5 L1116.7,1979.0 L1117.7,2000.0 L1118.4,2021.9 L1119.2,2038.7 L1120.0,2052.8 L1121.0,2065.3 L1122.0,2067.0 L1122.9,2079.2 L1123.9,2086.0 L1124.9,2084.5 L1125.9,2091.2 L1126.9,2100.8 L1127.9,2102.7 L1128.9,2106.8 L1129.9,2099.0 L1130.9,2099.2 L1131.8,2099.7 L1132.8,2103.5 L1133.8,2105.6 L1134.8,2111.5 L1135.8,2115.9 L1136.7,2118.5 L1137.7,2115.7 L1138.7,2116.2 L1139.7,2123.2 L1140.5,2119.8 L1141.4,2127.0 L1142.3,2127.6 L1143.2,2126.8 L1144.1,2129.1 L1144.9,2125.3 L1145.8,2116.8 L1146.7,2119.3 L1147.6,2114.7 L1148.5,2105.6 L1149.4,2096.6 L1150.4,2094.5 L1151.3,2094.2 L1152.3,2088.0 L1153.3,2087.4 L1154.2,2084.3 L1155.2,2076.3 L1156.1,2076.7 L1157.0,2089.7 L1157.9,2090.9 L1158.7,2093.9 L1159.6,2091.9 L1160.5,2100.7 L1161.4,2101.6 L1162.3,2103.6 L1163.1,2102.7 L1164.1,2111.9 L1165.1,2109.7 L1166.1,2117.3 L1166.9,2111.1 L1167.8,2113.4 L1168.7,2108.2 L1169.6,2105.4 L1170.5,2096.8 L1171.3,2086.4 L1172.2,2080.0 L1173.1,2080.8 L1174.0,2067.0 L1174.9,2064.5 L1175.7,2068.8 L1176.6,2069.6 L1177.5,2069.9 L1178.4,2071.3 L1179.3,2067.5 L1180.1,2064.0 L1181.0,2071.3 L1181.9,2066.5 L1182.8,2075.3 L1183.7,2073.3 L1184.5,2067.0 L1185.4,2069.3 L1186.3,2061.1 L1187.2,2052.1 L1188.1,2052.8 L1188.9,2047.7 L1189.8,2046.6 L1190.7,2043.0 L1191.6,2045.6 L1192.5,2044.0 L1193.3,2040.9 L1194.2,2027.5 L1195.1,2030.8 L1196.0,2016.6 L1196.9,2014.7 L1197.7,1999.1 L1198.6,1980.9 L1199.5,1957.4 L1200.4,1941.3 L1201.3,1939.1 L1202.3,1939.9 L1203.2,1941.4 L1204.2,1944.3 L1205.2,1959.9 L1206.2,1969.6 L1207.1,1985.3 L1208.1,1998.9 L1209.1,2001.4 L1210.1,2014.7 L1210.9,2021.8 L1211.8,2025.8 L1212.7,2039.4 L1213.6,2048.9 L1214.5,2052.8 L1215.3,2060.4 L1216.2,2062.5 L1217.1,2058.2 L1218.0,2065.7 L1218.9,2067.5 L1219.8,2069.1 L1220.8,2056.7 L1221.8,2058.7 L1222.8,2055.1 L1223.8,2046.7 L1224.7,2038.1 L1225.7,2037.1 L1226.7,2042.8 L1227.7,2049.9 L1228.6,2052.6 L1229.6,2066.0 L1230.5,2062.9 L1231.5,2073.3 L1232.4,2053.8 L1233.2,2046.1 L1234.1,2034.0 L1235.0,2014.7 L1236.0,1990.3 L1237.0,1980.5 L1237.9,1956.0 L1238.7,1927.2 L1239.5,1910.2 L1240.3,1882.7 L1241.0,1909.8 L1241.6,1929.2 L1242.3,1956.0 L1243.3,1987.7 L1244.3,2021.0 L1245.3,2058.7 L1246.2,2069.5 L1247.2,2089.0 L1248.2,2096.8 L1249.2,2091.2 L1250.1,2071.9 L1251.1,2070.6 L1252.0,2055.7 L1253.0,2074.8 L1254.0,2086.6 L1254.9,2099.7 L1255.9,2106.7 L1256.9,2100.9 L1257.9,2108.5 L1258.6,2081.8 L1259.2,2048.5 L1259.9,2014.7 L1260.9,1960.0 L1261.9,1899.3 L1262.9,1838.7 L1263.6,1806.1 L1264.2,1771.3 L1264.9,1730.1 L1265.7,1751.5 L1266.5,1767.6 L1267.3,1780.0 L1268.0,1803.1 L1268.8,1838.8 L1269.6,1862.1 L1270.3,1806.3 L1271.0,1754.9 L1271.7,1706.7 L1272.4,1645.3 L1273.1,1574.7 L1273.9,1516.0 L1274.6,1457.3 L1275.3,1457.3 L1276.1,1457.3 L1276.7,1721.3 L1277.5,1871.3 L1278.4,2014.7 L1279.1,2019.5 L1279.8,2030.6 L1280.5,2044.0 L1281.2,2035.1 L1281.8,2038.8 L1282.5,2029.3 L1283.5,2021.5 L1284.5,2026.3 L1285.5,2020.5 L1286.2,1988.1 L1287.0,1949.5 L1287.8,1917.9 L1288.5,1953.0 L1289.3,1997.1 L1290.0,2012.2 L1290.6,2021.1 L1291.3,2029.3 L1292.2,1961.3 L1293.1,1897.3 L1293.8,1827.4 L1294.4,1755.1 L1295.1,1683.2 L1295.8,1700.6 L1296.5,1711.9 L1297.2,1721.3 L1298.1,1776.0 L1298.9,1838.7 L1299.6,1890.8 L1300.3,1939.4 L1301.0,1985.3 L1301.9,2001.7 L1302.8,2013.7 L1303.6,2016.4 L1304.5,2036.7 L1305.4,2044.0 L1306.3,2048.5 L1307.2,2053.4 L1308.0,2067.8 L1308.9,2068.4 L1309.8,2079.2 L1310.7,2081.5 L1311.6,2069.5 L1312.4,2070.2 L1313.3,2065.8 L1314.2,2067.5 L1315.2,2063.8 L1316.2,2060.9 L1317.1,2061.0 L1318.1,2062.4 L1319.1,2055.6 L1320.1,2058.7 L1321.0,2054.8 L1321.9,2061.6 L1322.8,2055.4 L1323.7,2052.0 L1324.6,2059.1 L1325.6,2052.1 L1326.5,2052.1 L1327.4,2052.8 L1328.3,2055.9 L1329.2,2059.9 L1330.0,2056.2 L1330.9,2055.8 L1331.8,2061.6 L1332.8,2066.7 L1333.8,2060.8 L1334.7,2063.5 L1335.7,2074.1 L1336.7,2069.4 L1337.7,2073.3 L1338.6,2072.9 L1339.6,2074.5 L1340.6,2077.6 L1341.6,2089.2 L1342.6,2092.8 L1343.5,2090.9 L1344.5,2090.5 L1345.5,2083.5 L1346.5,2083.3 L1347.4,2080.7 L1348.4,2082.7 L1349.4,2079.2 L1350.4,2077.8 L1351.4,2068.3 L1352.3,2063.3 L1353.3,2052.0 L1354.3,2048.4 L1355.3,2044.0 L1356.1,2036.1 L1357.0,2024.0 L1357.9,2021.0 L1358.8,2011.5 L1359.7,2000.0 L1360.5,1982.0 L1361.4,1976.9 L1362.3,1958.8 L1363.2,1948.8 L1364.1,1932.5 L1365.0,1922.6 L1366.0,1916.1 L1367.0,1909.1 L1367.9,1906.6 L1368.8,1899.8 L1369.6,1893.5 L1370.5,1882.7 L1371.4,1869.1 L1372.3,1853.3 L1373.3,1874.9 L1374.2,1894.7 L1375.2,1912.0 L1376.1,1920.2 L1377.0,1937.7 L1377.9,1947.0 L1378.7,1956.0 L1379.6,1966.2 L1380.5,1970.1 L1381.4,1979.3 L1382.3,1987.3 L1383.1,2000.0 L1384.1,2011.0 L1385.1,2011.3 L1386.1,2020.5 L1386.9,2028.6 L1387.8,2034.4 L1388.7,2032.7 L1389.6,2036.8 L1390.5,2044.0 L1391.3,2049.4 L1392.2,2052.5 L1393.1,2055.3 L1394.0,2058.3 L1394.9,2055.7 L1395.7,2057.8 L1396.6,2052.4 L1397.5,2053.4 L1398.4,2041.6 L1399.3,2044.0 L1400.1,2047.3 L1401.0,2047.0 L1401.9,2043.8 L1402.8,2038.3 L1403.7,2041.1 L1404.5,2043.7 L1405.4,2038.4 L1406.3,2045.1 L1407.2,2046.1 L1408.1,2044.0 L1408.9,2049.9 L1409.8,2048.9 L1410.7,2045.0 L1411.6,2047.6 L1412.5,2052.8 L1413.3,2059.6 L1414.2,2063.3 L1415.1,2066.0 L1416.0,2060.2 L1416.9,2067.5 L1417.7,2074.1 L1418.6,2074.3 L1419.5,2070.6 L1420.4,2070.5 L1421.3,2076.3 L1422.1,2071.0 L1423.0,2078.7 L1423.9,2076.7 L1424.8,2074.6 L1425.7,2070.4 L1426.5,2067.5 L1427.4,2076.2 L1428.3,2071.7 L1429.2,2070.4 L1430.1,2076.3 L1430.9,2076.0 L1431.8,2082.4 L1432.7,2076.3 L1433.6,2081.4 L1434.5,2082.1 L1435.3,2076.4 L1436.2,2072.2 L1437.1,2071.4 L1438.0,2069.1 L1438.9,2067.5 L1439.7,2054.4 L1440.6,2043.9 L1441.5,2038.6 L1442.4,2022.0 L1443.3,2014.7 L1444.1,1997.1 L1445.0,1989.4 L1445.9,1967.6 L1446.8,1956.0 L1447.6,1919.0 L1448.3,1880.8 L1449.1,1838.7 L1449.9,1775.0 L1450.7,1698.5 L1451.5,1633.3 L1452.2,1589.0 L1452.8,1537.9 L1453.5,1486.7" fill="none" stroke="#49718e" stroke-width="3.4" stroke-linejoin="round"/>
</g>
<rect x="131.3" y="1516.3" width="1321.7" height="677.8" fill="none" stroke="#3a3a3a" stroke-width="2.3"/>
<line x1="123.80000000000001" y1="2122.6" x2="131.3" y2="2122.6" stroke="#3a3a3a" stroke-width="1.8"/>
<text x="114.3" y="2128.9" font-size="17.6" text-anchor="end" textLength="31" lengthAdjust="spacingAndGlyphs" fill="#1a1a1a">0.6</text>
<line x1="123.80000000000001" y1="2050.9" x2="131.3" y2="2050.9" stroke="#3a3a3a" stroke-width="1.8"/>
<text x="114.3" y="2057.3" font-size="17.6" text-anchor="end" textLength="31" lengthAdjust="spacingAndGlyphs" fill="#1a1a1a">1.2</text>
<line x1="123.80000000000001" y1="1979.3" x2="131.3" y2="1979.3" stroke="#3a3a3a" stroke-width="1.8"/>
<text x="114.3" y="1985.6" font-size="17.6" text-anchor="end" textLength="31" lengthAdjust="spacingAndGlyphs" fill="#1a1a1a">1.8</text>
<line x1="123.80000000000001" y1="1907.7" x2="131.3" y2="1907.7" stroke="#3a3a3a" stroke-width="1.8"/>
<text x="114.3" y="1914.0" font-size="17.6" text-anchor="end" textLength="31" lengthAdjust="spacingAndGlyphs" fill="#1a1a1a">2.4</text>
<line x1="123.80000000000001" y1="1836.1" x2="131.3" y2="1836.1" stroke="#3a3a3a" stroke-width="1.8"/>
<text x="114.3" y="1842.4" font-size="17.6" text-anchor="end" textLength="31" lengthAdjust="spacingAndGlyphs" fill="#1a1a1a">3.0</text>
<line x1="123.80000000000001" y1="1764.4" x2="131.3" y2="1764.4" stroke="#3a3a3a" stroke-width="1.8"/>
<text x="114.3" y="1770.8" font-size="17.6" text-anchor="end" textLength="31" lengthAdjust="spacingAndGlyphs" fill="#1a1a1a">3.6</text>
<line x1="123.80000000000001" y1="1692.8" x2="131.3" y2="1692.8" stroke="#3a3a3a" stroke-width="1.8"/>
<text x="114.3" y="1699.1" font-size="17.6" text-anchor="end" textLength="31" lengthAdjust="spacingAndGlyphs" fill="#1a1a1a">4.2</text>
<line x1="123.80000000000001" y1="1621.2" x2="131.3" y2="1621.2" stroke="#3a3a3a" stroke-width="1.8"/>
<text x="114.3" y="1627.5" font-size="17.6" text-anchor="end" textLength="31" lengthAdjust="spacingAndGlyphs" fill="#1a1a1a">4.8</text>
<line x1="123.80000000000001" y1="1549.6" x2="131.3" y2="1549.6" stroke="#3a3a3a" stroke-width="1.8"/>
<text x="114.3" y="1555.9" font-size="17.6" text-anchor="end" textLength="31" lengthAdjust="spacingAndGlyphs" fill="#1a1a1a">5.4</text>
<line x1="131.4" y1="2194.1" x2="131.4" y2="2200.6" stroke="#3a3a3a" stroke-width="1.8"/>
<text x="131.4" y="2218.7" font-size="17.6" text-anchor="middle" textLength="11" lengthAdjust="spacingAndGlyphs" fill="#1a1a1a">0</text>
<line x1="339.6" y1="2194.1" x2="339.6" y2="2200.6" stroke="#3a3a3a" stroke-width="1.8"/>
<text x="339.6" y="2218.7" font-size="17.6" text-anchor="middle" textLength="38" lengthAdjust="spacingAndGlyphs" fill="#1a1a1a">200</text>
<line x1="547.7" y1="2194.1" x2="547.7" y2="2200.6" stroke="#3a3a3a" stroke-width="1.8"/>
<text x="547.7" y="2218.7" font-size="17.6" text-anchor="middle" textLength="38" lengthAdjust="spacingAndGlyphs" fill="#1a1a1a">400</text>
<line x1="755.9" y1="2194.1" x2="755.9" y2="2200.6" stroke="#3a3a3a" stroke-width="1.8"/>
<text x="755.9" y="2218.7" font-size="17.6" text-anchor="middle" textLength="38" lengthAdjust="spacingAndGlyphs" fill="#1a1a1a">600</text>
<line x1="964.0" y1="2194.1" x2="964.0" y2="2200.6" stroke="#3a3a3a" stroke-width="1.8"/>
<text x="964.0" y="2218.7" font-size="17.6" text-anchor="middle" textLength="38" lengthAdjust="spacingAndGlyphs" fill="#1a1a1a">800</text>
<line x1="1172.2" y1="2194.1" x2="1172.2" y2="2200.6" stroke="#3a3a3a" stroke-width="1.8"/>
<text x="1172.2" y="2218.7" font-size="17.6" text-anchor="middle" textLength="51.5" lengthAdjust="spacingAndGlyphs" fill="#1a1a1a">1000</text>
<line x1="1380.4" y1="2194.1" x2="1380.4" y2="2200.6" stroke="#3a3a3a" stroke-width="1.8"/>
<text x="1380.4" y="2218.7" font-size="17.6" text-anchor="middle" textLength="51.5" lengthAdjust="spacingAndGlyphs" fill="#1a1a1a">1200</text>
<text x="792.5" y="2251.1" font-size="26.8" text-anchor="middle" textLength="242.6" lengthAdjust="spacingAndGlyphs" fill="#111">Residue Index</text>
<text transform="translate(64.4,1854.5) rotate(-90)" font-size="35.5" text-anchor="middle" textLength="119" lengthAdjust="spacingAndGlyphs" fill="#111">RMSF (<tspan font-style="italic">Å</tspan>)</text>
<text x="9.6" y="1625.3" font-family="Liberation Serif" font-weight="bold" font-size="51" textLength="65.6" lengthAdjust="spacingAndGlyphs" fill="#000">(C)</text>
<rect x="654.1" y="2292" width="243.4" height="56" rx="7" ry="7" fill="#fff" stroke="#d2d2d2" stroke-width="2.6"/>
<rect x="646.7" y="2300.4" width="73.5" height="31.9" fill="#4b7391"/>
<text x="714.3" y="2331.2" font-size="42.5" textLength="172.7" lengthAdjust="spacingAndGlyphs" fill="#000">C-alphas</text>
</svg>
</body></html>
